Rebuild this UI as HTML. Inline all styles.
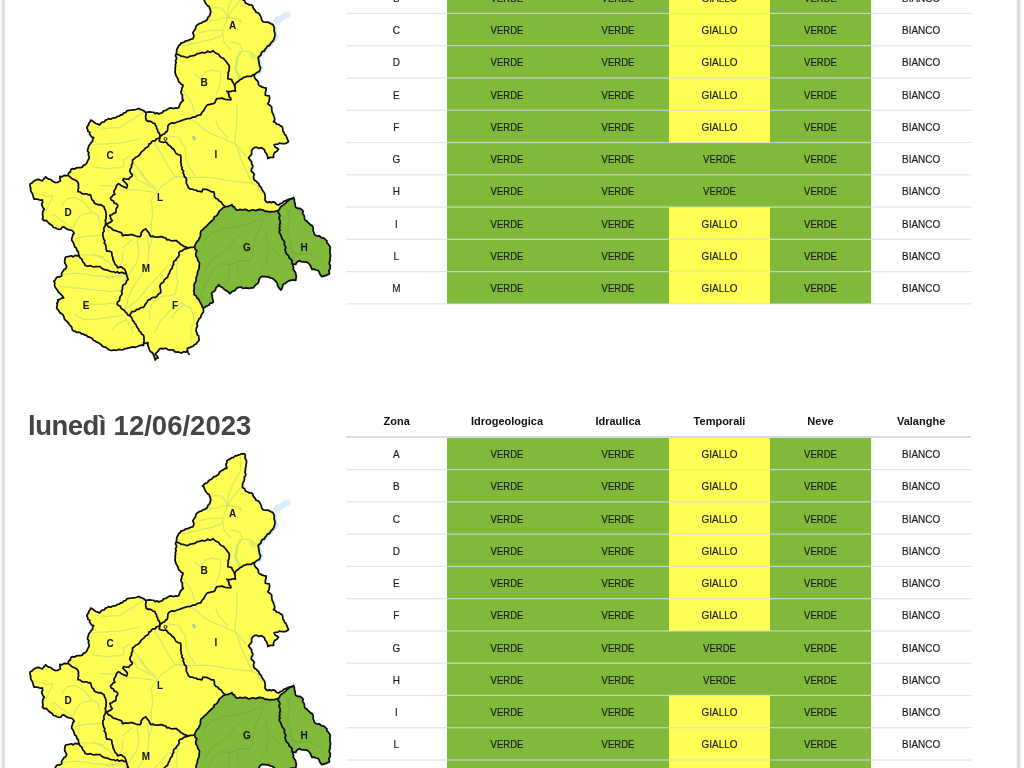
<!DOCTYPE html>
<html><head><meta charset="utf-8"><style>
html,body{margin:0;padding:0;background:#fff;width:1024px;height:768px;overflow:hidden;position:relative}
body{font-family:"Liberation Sans",sans-serif;color:#222}
.th,.td,.hl,.rl{position:absolute}
.th{height:28px;line-height:28px;text-align:center;font-weight:bold;font-size:11px;color:#111}
.td{text-align:center;font-size:10.8px;color:#1c1c1c;-webkit-text-stroke:0.2px #1c1c1c}
.td span{position:absolute;left:0;right:0;top:1.5px;line-height:32px;transform:scaleX(.91)}
.hl{height:2px;background:#d6dce2}
.rl{height:1px;background:rgba(220,224,230,.78)}
.vl{position:absolute;top:0;height:768px;width:1px}
.title{position:absolute;left:28px;top:409.5px;font-size:27.5px;font-weight:bold;color:#444;white-space:nowrap;letter-spacing:0px}
svg{position:absolute;left:0;top:0}
#pg{position:absolute;left:0;top:0;width:1024px;height:768px;will-change:transform;background:#fff}
</style></head><body><div id="pg">
<div class="td" style="left:346.4px;top:-18.82px;width:100.6px;height:32.27px;"><span style="top:0.55px;transform:scaleX(0.92)">B</span></div><div class="td" style="left:447px;top:-18.82px;width:120px;height:32.27px;background:#81b93a;"><span style="top:0.55px;transform:scaleX(0.88)">VERDE</span></div><div class="td" style="left:567px;top:-18.82px;width:102px;height:32.27px;background:#81b93a;"><span style="top:0.55px;transform:scaleX(0.88)">VERDE</span></div><div class="td" style="left:669px;top:-18.82px;width:101px;height:32.27px;background:#fffe55;"><span style="top:0.55px;transform:scaleX(0.92)">GIALLO</span></div><div class="td" style="left:770px;top:-18.82px;width:101px;height:32.27px;background:#81b93a;"><span style="top:0.55px;transform:scaleX(0.88)">VERDE</span></div><div class="td" style="left:871px;top:-18.82px;width:100.25px;height:32.27px;"><span style="top:0.55px;transform:scaleX(0.92)">BIANCO</span></div><div class="td" style="left:346.4px;top:13.45px;width:100.6px;height:32.27px;"><span style="top:0.55px;transform:scaleX(0.92)">C</span></div><div class="td" style="left:447px;top:13.45px;width:120px;height:32.27px;background:#81b93a;"><span style="top:0.55px;transform:scaleX(0.88)">VERDE</span></div><div class="td" style="left:567px;top:13.45px;width:102px;height:32.27px;background:#81b93a;"><span style="top:0.55px;transform:scaleX(0.88)">VERDE</span></div><div class="td" style="left:669px;top:13.45px;width:101px;height:32.27px;background:#fffe55;"><span style="top:0.55px;transform:scaleX(0.92)">GIALLO</span></div><div class="td" style="left:770px;top:13.45px;width:101px;height:32.27px;background:#81b93a;"><span style="top:0.55px;transform:scaleX(0.88)">VERDE</span></div><div class="td" style="left:871px;top:13.45px;width:100.25px;height:32.27px;"><span style="top:0.55px;transform:scaleX(0.92)">BIANCO</span></div><div class="td" style="left:346.4px;top:45.72px;width:100.6px;height:32.27px;"><span style="top:0.55px;transform:scaleX(0.92)">D</span></div><div class="td" style="left:447px;top:45.72px;width:120px;height:32.27px;background:#81b93a;"><span style="top:0.55px;transform:scaleX(0.88)">VERDE</span></div><div class="td" style="left:567px;top:45.72px;width:102px;height:32.27px;background:#81b93a;"><span style="top:0.55px;transform:scaleX(0.88)">VERDE</span></div><div class="td" style="left:669px;top:45.72px;width:101px;height:32.27px;background:#fffe55;"><span style="top:0.55px;transform:scaleX(0.92)">GIALLO</span></div><div class="td" style="left:770px;top:45.72px;width:101px;height:32.27px;background:#81b93a;"><span style="top:0.55px;transform:scaleX(0.88)">VERDE</span></div><div class="td" style="left:871px;top:45.72px;width:100.25px;height:32.27px;"><span style="top:0.55px;transform:scaleX(0.92)">BIANCO</span></div><div class="td" style="left:346.4px;top:77.99px;width:100.6px;height:32.27px;"><span style="top:0.55px;transform:scaleX(0.92)">E</span></div><div class="td" style="left:447px;top:77.99px;width:120px;height:32.27px;background:#81b93a;"><span style="top:0.55px;transform:scaleX(0.88)">VERDE</span></div><div class="td" style="left:567px;top:77.99px;width:102px;height:32.27px;background:#81b93a;"><span style="top:0.55px;transform:scaleX(0.88)">VERDE</span></div><div class="td" style="left:669px;top:77.99px;width:101px;height:32.27px;background:#fffe55;"><span style="top:0.55px;transform:scaleX(0.92)">GIALLO</span></div><div class="td" style="left:770px;top:77.99px;width:101px;height:32.27px;background:#81b93a;"><span style="top:0.55px;transform:scaleX(0.88)">VERDE</span></div><div class="td" style="left:871px;top:77.99px;width:100.25px;height:32.27px;"><span style="top:0.55px;transform:scaleX(0.92)">BIANCO</span></div><div class="td" style="left:346.4px;top:110.26px;width:100.6px;height:32.27px;"><span style="top:0.55px;transform:scaleX(0.92)">F</span></div><div class="td" style="left:447px;top:110.26px;width:120px;height:32.27px;background:#81b93a;"><span style="top:0.55px;transform:scaleX(0.88)">VERDE</span></div><div class="td" style="left:567px;top:110.26px;width:102px;height:32.27px;background:#81b93a;"><span style="top:0.55px;transform:scaleX(0.88)">VERDE</span></div><div class="td" style="left:669px;top:110.26px;width:101px;height:32.27px;background:#fffe55;"><span style="top:0.55px;transform:scaleX(0.92)">GIALLO</span></div><div class="td" style="left:770px;top:110.26px;width:101px;height:32.27px;background:#81b93a;"><span style="top:0.55px;transform:scaleX(0.88)">VERDE</span></div><div class="td" style="left:871px;top:110.26px;width:100.25px;height:32.27px;"><span style="top:0.55px;transform:scaleX(0.92)">BIANCO</span></div><div class="td" style="left:346.4px;top:142.53px;width:100.6px;height:32.27px;"><span style="top:0.55px;transform:scaleX(0.92)">G</span></div><div class="td" style="left:447px;top:142.53px;width:120px;height:32.27px;background:#81b93a;"><span style="top:0.55px;transform:scaleX(0.88)">VERDE</span></div><div class="td" style="left:567px;top:142.53px;width:102px;height:32.27px;background:#81b93a;"><span style="top:0.55px;transform:scaleX(0.88)">VERDE</span></div><div class="td" style="left:669px;top:142.53px;width:101px;height:32.27px;background:#81b93a;"><span style="top:0.55px;transform:scaleX(0.88)">VERDE</span></div><div class="td" style="left:770px;top:142.53px;width:101px;height:32.27px;background:#81b93a;"><span style="top:0.55px;transform:scaleX(0.88)">VERDE</span></div><div class="td" style="left:871px;top:142.53px;width:100.25px;height:32.27px;"><span style="top:0.55px;transform:scaleX(0.92)">BIANCO</span></div><div class="td" style="left:346.4px;top:174.8px;width:100.6px;height:32.27px;"><span style="top:0.55px;transform:scaleX(0.92)">H</span></div><div class="td" style="left:447px;top:174.8px;width:120px;height:32.27px;background:#81b93a;"><span style="top:0.55px;transform:scaleX(0.88)">VERDE</span></div><div class="td" style="left:567px;top:174.8px;width:102px;height:32.27px;background:#81b93a;"><span style="top:0.55px;transform:scaleX(0.88)">VERDE</span></div><div class="td" style="left:669px;top:174.8px;width:101px;height:32.27px;background:#81b93a;"><span style="top:0.55px;transform:scaleX(0.88)">VERDE</span></div><div class="td" style="left:770px;top:174.8px;width:101px;height:32.27px;background:#81b93a;"><span style="top:0.55px;transform:scaleX(0.88)">VERDE</span></div><div class="td" style="left:871px;top:174.8px;width:100.25px;height:32.27px;"><span style="top:0.55px;transform:scaleX(0.92)">BIANCO</span></div><div class="td" style="left:346.4px;top:207.07px;width:100.6px;height:32.27px;"><span style="top:0.55px;transform:scaleX(0.92)">I</span></div><div class="td" style="left:447px;top:207.07px;width:120px;height:32.27px;background:#81b93a;"><span style="top:0.55px;transform:scaleX(0.88)">VERDE</span></div><div class="td" style="left:567px;top:207.07px;width:102px;height:32.27px;background:#81b93a;"><span style="top:0.55px;transform:scaleX(0.88)">VERDE</span></div><div class="td" style="left:669px;top:207.07px;width:101px;height:32.27px;background:#fffe55;"><span style="top:0.55px;transform:scaleX(0.92)">GIALLO</span></div><div class="td" style="left:770px;top:207.07px;width:101px;height:32.27px;background:#81b93a;"><span style="top:0.55px;transform:scaleX(0.88)">VERDE</span></div><div class="td" style="left:871px;top:207.07px;width:100.25px;height:32.27px;"><span style="top:0.55px;transform:scaleX(0.92)">BIANCO</span></div><div class="td" style="left:346.4px;top:239.34px;width:100.6px;height:32.27px;"><span style="top:0.55px;transform:scaleX(0.92)">L</span></div><div class="td" style="left:447px;top:239.34px;width:120px;height:32.27px;background:#81b93a;"><span style="top:0.55px;transform:scaleX(0.88)">VERDE</span></div><div class="td" style="left:567px;top:239.34px;width:102px;height:32.27px;background:#81b93a;"><span style="top:0.55px;transform:scaleX(0.88)">VERDE</span></div><div class="td" style="left:669px;top:239.34px;width:101px;height:32.27px;background:#fffe55;"><span style="top:0.55px;transform:scaleX(0.92)">GIALLO</span></div><div class="td" style="left:770px;top:239.34px;width:101px;height:32.27px;background:#81b93a;"><span style="top:0.55px;transform:scaleX(0.88)">VERDE</span></div><div class="td" style="left:871px;top:239.34px;width:100.25px;height:32.27px;"><span style="top:0.55px;transform:scaleX(0.92)">BIANCO</span></div><div class="td" style="left:346.4px;top:271.61px;width:100.6px;height:32.27px;"><span style="top:0.55px;transform:scaleX(0.92)">M</span></div><div class="td" style="left:447px;top:271.61px;width:120px;height:32.27px;background:#81b93a;"><span style="top:0.55px;transform:scaleX(0.88)">VERDE</span></div><div class="td" style="left:567px;top:271.61px;width:102px;height:32.27px;background:#81b93a;"><span style="top:0.55px;transform:scaleX(0.88)">VERDE</span></div><div class="td" style="left:669px;top:271.61px;width:101px;height:32.27px;background:#fffe55;"><span style="top:0.55px;transform:scaleX(0.92)">GIALLO</span></div><div class="td" style="left:770px;top:271.61px;width:101px;height:32.27px;background:#81b93a;"><span style="top:0.55px;transform:scaleX(0.88)">VERDE</span></div><div class="td" style="left:871px;top:271.61px;width:100.25px;height:32.27px;"><span style="top:0.55px;transform:scaleX(0.92)">BIANCO</span></div><div class="th" style="left:346.4px;top:407.3px;width:100.6px">Zona</div><div class="th" style="left:447px;top:407.3px;width:120px">Idrogeologica</div><div class="th" style="left:567px;top:407.3px;width:102px">Idraulica</div><div class="th" style="left:669px;top:407.3px;width:101px">Temporali</div><div class="th" style="left:770px;top:407.3px;width:101px">Neve</div><div class="th" style="left:871px;top:407.3px;width:100.25px">Valanghe</div><div class="td" style="left:346.4px;top:437.3px;width:100.6px;height:32.27px;"><span style="top:0.75px;transform:scaleX(0.92)">A</span></div><div class="td" style="left:447px;top:437.3px;width:120px;height:32.27px;background:#81b93a;"><span style="top:0.75px;transform:scaleX(0.88)">VERDE</span></div><div class="td" style="left:567px;top:437.3px;width:102px;height:32.27px;background:#81b93a;"><span style="top:0.75px;transform:scaleX(0.88)">VERDE</span></div><div class="td" style="left:669px;top:437.3px;width:101px;height:32.27px;background:#fffe55;"><span style="top:0.75px;transform:scaleX(0.92)">GIALLO</span></div><div class="td" style="left:770px;top:437.3px;width:101px;height:32.27px;background:#81b93a;"><span style="top:0.75px;transform:scaleX(0.88)">VERDE</span></div><div class="td" style="left:871px;top:437.3px;width:100.25px;height:32.27px;"><span style="top:0.75px;transform:scaleX(0.92)">BIANCO</span></div><div class="td" style="left:346.4px;top:469.57px;width:100.6px;height:32.27px;"><span style="top:0.75px;transform:scaleX(0.92)">B</span></div><div class="td" style="left:447px;top:469.57px;width:120px;height:32.27px;background:#81b93a;"><span style="top:0.75px;transform:scaleX(0.88)">VERDE</span></div><div class="td" style="left:567px;top:469.57px;width:102px;height:32.27px;background:#81b93a;"><span style="top:0.75px;transform:scaleX(0.88)">VERDE</span></div><div class="td" style="left:669px;top:469.57px;width:101px;height:32.27px;background:#fffe55;"><span style="top:0.75px;transform:scaleX(0.92)">GIALLO</span></div><div class="td" style="left:770px;top:469.57px;width:101px;height:32.27px;background:#81b93a;"><span style="top:0.75px;transform:scaleX(0.88)">VERDE</span></div><div class="td" style="left:871px;top:469.57px;width:100.25px;height:32.27px;"><span style="top:0.75px;transform:scaleX(0.92)">BIANCO</span></div><div class="td" style="left:346.4px;top:501.84px;width:100.6px;height:32.27px;"><span style="top:0.75px;transform:scaleX(0.92)">C</span></div><div class="td" style="left:447px;top:501.84px;width:120px;height:32.27px;background:#81b93a;"><span style="top:0.75px;transform:scaleX(0.88)">VERDE</span></div><div class="td" style="left:567px;top:501.84px;width:102px;height:32.27px;background:#81b93a;"><span style="top:0.75px;transform:scaleX(0.88)">VERDE</span></div><div class="td" style="left:669px;top:501.84px;width:101px;height:32.27px;background:#fffe55;"><span style="top:0.75px;transform:scaleX(0.92)">GIALLO</span></div><div class="td" style="left:770px;top:501.84px;width:101px;height:32.27px;background:#81b93a;"><span style="top:0.75px;transform:scaleX(0.88)">VERDE</span></div><div class="td" style="left:871px;top:501.84px;width:100.25px;height:32.27px;"><span style="top:0.75px;transform:scaleX(0.92)">BIANCO</span></div><div class="td" style="left:346.4px;top:534.11px;width:100.6px;height:32.27px;"><span style="top:0.75px;transform:scaleX(0.92)">D</span></div><div class="td" style="left:447px;top:534.11px;width:120px;height:32.27px;background:#81b93a;"><span style="top:0.75px;transform:scaleX(0.88)">VERDE</span></div><div class="td" style="left:567px;top:534.11px;width:102px;height:32.27px;background:#81b93a;"><span style="top:0.75px;transform:scaleX(0.88)">VERDE</span></div><div class="td" style="left:669px;top:534.11px;width:101px;height:32.27px;background:#fffe55;"><span style="top:0.75px;transform:scaleX(0.92)">GIALLO</span></div><div class="td" style="left:770px;top:534.11px;width:101px;height:32.27px;background:#81b93a;"><span style="top:0.75px;transform:scaleX(0.88)">VERDE</span></div><div class="td" style="left:871px;top:534.11px;width:100.25px;height:32.27px;"><span style="top:0.75px;transform:scaleX(0.92)">BIANCO</span></div><div class="td" style="left:346.4px;top:566.38px;width:100.6px;height:32.27px;"><span style="top:0.75px;transform:scaleX(0.92)">E</span></div><div class="td" style="left:447px;top:566.38px;width:120px;height:32.27px;background:#81b93a;"><span style="top:0.75px;transform:scaleX(0.88)">VERDE</span></div><div class="td" style="left:567px;top:566.38px;width:102px;height:32.27px;background:#81b93a;"><span style="top:0.75px;transform:scaleX(0.88)">VERDE</span></div><div class="td" style="left:669px;top:566.38px;width:101px;height:32.27px;background:#fffe55;"><span style="top:0.75px;transform:scaleX(0.92)">GIALLO</span></div><div class="td" style="left:770px;top:566.38px;width:101px;height:32.27px;background:#81b93a;"><span style="top:0.75px;transform:scaleX(0.88)">VERDE</span></div><div class="td" style="left:871px;top:566.38px;width:100.25px;height:32.27px;"><span style="top:0.75px;transform:scaleX(0.92)">BIANCO</span></div><div class="td" style="left:346.4px;top:598.65px;width:100.6px;height:32.27px;"><span style="top:0.75px;transform:scaleX(0.92)">F</span></div><div class="td" style="left:447px;top:598.65px;width:120px;height:32.27px;background:#81b93a;"><span style="top:0.75px;transform:scaleX(0.88)">VERDE</span></div><div class="td" style="left:567px;top:598.65px;width:102px;height:32.27px;background:#81b93a;"><span style="top:0.75px;transform:scaleX(0.88)">VERDE</span></div><div class="td" style="left:669px;top:598.65px;width:101px;height:32.27px;background:#fffe55;"><span style="top:0.75px;transform:scaleX(0.92)">GIALLO</span></div><div class="td" style="left:770px;top:598.65px;width:101px;height:32.27px;background:#81b93a;"><span style="top:0.75px;transform:scaleX(0.88)">VERDE</span></div><div class="td" style="left:871px;top:598.65px;width:100.25px;height:32.27px;"><span style="top:0.75px;transform:scaleX(0.92)">BIANCO</span></div><div class="td" style="left:346.4px;top:630.92px;width:100.6px;height:32.27px;"><span style="top:0.75px;transform:scaleX(0.92)">G</span></div><div class="td" style="left:447px;top:630.92px;width:120px;height:32.27px;background:#81b93a;"><span style="top:0.75px;transform:scaleX(0.88)">VERDE</span></div><div class="td" style="left:567px;top:630.92px;width:102px;height:32.27px;background:#81b93a;"><span style="top:0.75px;transform:scaleX(0.88)">VERDE</span></div><div class="td" style="left:669px;top:630.92px;width:101px;height:32.27px;background:#81b93a;"><span style="top:0.75px;transform:scaleX(0.88)">VERDE</span></div><div class="td" style="left:770px;top:630.92px;width:101px;height:32.27px;background:#81b93a;"><span style="top:0.75px;transform:scaleX(0.88)">VERDE</span></div><div class="td" style="left:871px;top:630.92px;width:100.25px;height:32.27px;"><span style="top:0.75px;transform:scaleX(0.92)">BIANCO</span></div><div class="td" style="left:346.4px;top:663.19px;width:100.6px;height:32.27px;"><span style="top:0.75px;transform:scaleX(0.92)">H</span></div><div class="td" style="left:447px;top:663.19px;width:120px;height:32.27px;background:#81b93a;"><span style="top:0.75px;transform:scaleX(0.88)">VERDE</span></div><div class="td" style="left:567px;top:663.19px;width:102px;height:32.27px;background:#81b93a;"><span style="top:0.75px;transform:scaleX(0.88)">VERDE</span></div><div class="td" style="left:669px;top:663.19px;width:101px;height:32.27px;background:#81b93a;"><span style="top:0.75px;transform:scaleX(0.88)">VERDE</span></div><div class="td" style="left:770px;top:663.19px;width:101px;height:32.27px;background:#81b93a;"><span style="top:0.75px;transform:scaleX(0.88)">VERDE</span></div><div class="td" style="left:871px;top:663.19px;width:100.25px;height:32.27px;"><span style="top:0.75px;transform:scaleX(0.92)">BIANCO</span></div><div class="td" style="left:346.4px;top:695.46px;width:100.6px;height:32.27px;"><span style="top:0.75px;transform:scaleX(0.92)">I</span></div><div class="td" style="left:447px;top:695.46px;width:120px;height:32.27px;background:#81b93a;"><span style="top:0.75px;transform:scaleX(0.88)">VERDE</span></div><div class="td" style="left:567px;top:695.46px;width:102px;height:32.27px;background:#81b93a;"><span style="top:0.75px;transform:scaleX(0.88)">VERDE</span></div><div class="td" style="left:669px;top:695.46px;width:101px;height:32.27px;background:#fffe55;"><span style="top:0.75px;transform:scaleX(0.92)">GIALLO</span></div><div class="td" style="left:770px;top:695.46px;width:101px;height:32.27px;background:#81b93a;"><span style="top:0.75px;transform:scaleX(0.88)">VERDE</span></div><div class="td" style="left:871px;top:695.46px;width:100.25px;height:32.27px;"><span style="top:0.75px;transform:scaleX(0.92)">BIANCO</span></div><div class="td" style="left:346.4px;top:727.73px;width:100.6px;height:32.27px;"><span style="top:0.75px;transform:scaleX(0.92)">L</span></div><div class="td" style="left:447px;top:727.73px;width:120px;height:32.27px;background:#81b93a;"><span style="top:0.75px;transform:scaleX(0.88)">VERDE</span></div><div class="td" style="left:567px;top:727.73px;width:102px;height:32.27px;background:#81b93a;"><span style="top:0.75px;transform:scaleX(0.88)">VERDE</span></div><div class="td" style="left:669px;top:727.73px;width:101px;height:32.27px;background:#fffe55;"><span style="top:0.75px;transform:scaleX(0.92)">GIALLO</span></div><div class="td" style="left:770px;top:727.73px;width:101px;height:32.27px;background:#81b93a;"><span style="top:0.75px;transform:scaleX(0.88)">VERDE</span></div><div class="td" style="left:871px;top:727.73px;width:100.25px;height:32.27px;"><span style="top:0.75px;transform:scaleX(0.92)">BIANCO</span></div><div class="td" style="left:346.4px;top:760px;width:100.6px;height:32.27px;"><span style="top:0.75px;transform:scaleX(0.92)">M</span></div><div class="td" style="left:447px;top:760px;width:120px;height:32.27px;background:#81b93a;"><span style="top:0.75px;transform:scaleX(0.88)">VERDE</span></div><div class="td" style="left:567px;top:760px;width:102px;height:32.27px;background:#81b93a;"><span style="top:0.75px;transform:scaleX(0.88)">VERDE</span></div><div class="td" style="left:669px;top:760px;width:101px;height:32.27px;background:#fffe55;"><span style="top:0.75px;transform:scaleX(0.92)">GIALLO</span></div><div class="td" style="left:770px;top:760px;width:101px;height:32.27px;background:#81b93a;"><span style="top:0.75px;transform:scaleX(0.88)">VERDE</span></div><div class="td" style="left:871px;top:760px;width:100.25px;height:32.27px;"><span style="top:0.75px;transform:scaleX(0.92)">BIANCO</span></div><div class="hl" style="left:346px;top:436px;width:625px"></div><svg width="1024" height="768" style="position:absolute;left:0;top:0"><rect x="346.4" y="12.82" width="624.85" height="1.25" fill="rgb(216,221,228)" fill-opacity="0.8"/><rect x="346.4" y="45.09" width="624.85" height="1.25" fill="rgb(216,221,228)" fill-opacity="0.8"/><rect x="346.4" y="77.37" width="624.85" height="1.25" fill="rgb(216,221,228)" fill-opacity="0.8"/><rect x="346.4" y="109.63" width="624.85" height="1.25" fill="rgb(216,221,228)" fill-opacity="0.8"/><rect x="346.4" y="141.91" width="624.85" height="1.25" fill="rgb(216,221,228)" fill-opacity="0.8"/><rect x="346.4" y="174.18" width="624.85" height="1.25" fill="rgb(216,221,228)" fill-opacity="0.8"/><rect x="346.4" y="206.45" width="624.85" height="1.25" fill="rgb(216,221,228)" fill-opacity="0.8"/><rect x="346.4" y="238.72" width="624.85" height="1.25" fill="rgb(216,221,228)" fill-opacity="0.8"/><rect x="346.4" y="270.99" width="624.85" height="1.25" fill="rgb(216,221,228)" fill-opacity="0.8"/><rect x="346.4" y="303.25" width="624.85" height="1.25" fill="rgb(216,221,228)" fill-opacity="0.8"/><rect x="346.4" y="468.94" width="624.85" height="1.25" fill="rgb(216,221,228)" fill-opacity="0.8"/><rect x="346.4" y="501.21" width="624.85" height="1.25" fill="rgb(216,221,228)" fill-opacity="0.8"/><rect x="346.4" y="533.49" width="624.85" height="1.25" fill="rgb(216,221,228)" fill-opacity="0.8"/><rect x="346.4" y="565.75" width="624.85" height="1.25" fill="rgb(216,221,228)" fill-opacity="0.8"/><rect x="346.4" y="598.02" width="624.85" height="1.25" fill="rgb(216,221,228)" fill-opacity="0.8"/><rect x="346.4" y="630.30" width="624.85" height="1.25" fill="rgb(216,221,228)" fill-opacity="0.8"/><rect x="346.4" y="662.57" width="624.85" height="1.25" fill="rgb(216,221,228)" fill-opacity="0.8"/><rect x="346.4" y="694.84" width="624.85" height="1.25" fill="rgb(216,221,228)" fill-opacity="0.8"/><rect x="346.4" y="727.11" width="624.85" height="1.25" fill="rgb(216,221,228)" fill-opacity="0.8"/><rect x="346.4" y="759.38" width="624.85" height="1.25" fill="rgb(216,221,228)" fill-opacity="0.8"/><rect x="346.4" y="791.64" width="624.85" height="1.25" fill="rgb(216,221,228)" fill-opacity="0.8"/></svg><div class="title"><span style="letter-spacing:-0.5px">luned&igrave;</span> 12/06/2023</div><svg width="1024" height="768" viewBox="0 0 1024 768"><g transform="translate(0,0)"><polygon points="273.75,21.10 276.10,17.20 280.80,15.60 284.70,12.50 288.60,11.70 290.90,14.80 290.20,16.40 284.70,18.75 280.00,22.70 276.10,25.80" fill="#dcecf8" stroke="#dcecf8" stroke-width="1"/><polyline points="273.40,26.60 274.50,32.80 275.30,38.30 267.50,46.90 258.10,57.80 258.30,60.00 260.60,67.80 259.10,71.70 254.40,74.50" fill="none" stroke="#d6e9f7" stroke-width="5.5" stroke-linejoin="round"/><polygon points="244.50,-34.20 245.47,-32.64 244.98,-30.67 245.57,-29.00 246.40,-27.40 246.56,-25.41 246.05,-23.48 245.93,-21.51 245.47,-19.58 245.50,-17.60 244.90,-15.89 245.66,-14.02 245.56,-12.25 244.23,-10.61 244.50,-8.80 243.92,-6.84 242.82,-5.05 242.50,-3.00 242.50,-0.50 244.58,0.85 245.60,3.10 247.40,3.73 249.04,4.79 251.06,4.85 252.70,5.90 253.30,8.34 255.00,10.20 255.95,12.12 258.24,12.86 259.62,14.41 260.50,16.40 261.38,18.26 261.82,20.35 263.30,21.90 265.43,22.07 267.56,22.17 269.60,22.90 271.05,23.85 272.76,24.44 273.75,26.00 274.31,27.71 274.19,29.49 274.28,31.25 274.82,32.96 275.00,34.71 274.80,36.50 273.75,39.60 272.84,41.24 271.38,42.39 270.36,43.92 269.44,45.55 267.37,46.17 266.47,47.81 265.17,49.11 264.45,50.90 262.40,51.54 261.33,53.04 260.91,55.10 259.48,56.28 258.10,57.50 258.60,60.00 258.80,62.03 259.31,63.97 259.51,66.00 260.60,67.80 259.95,69.79 259.10,71.70 257.30,72.24 255.84,73.36 254.40,74.50 254.29,76.35 254.80,78.01 255.90,79.50 257.40,80.75 258.34,82.34 258.43,84.47 259.80,85.80 261.79,86.88 263.92,87.56 266.10,88.10 266.17,89.91 265.55,91.63 265.35,93.41 265.30,95.20 267.23,95.66 269.20,95.90 269.68,97.73 269.30,99.57 269.20,101.40 267.70,103.75 269.74,105.21 271.60,106.90 271.74,108.84 271.81,110.80 272.32,112.66 273.31,114.40 273.89,116.24 274.57,118.05 274.70,120.00 273.50,121.75 275.46,122.49 276.60,124.25 278.75,124.48 280.39,125.87 282.25,126.75 282.83,128.89 282.90,131.10 284.07,132.47 284.52,134.35 286.00,135.50 286.80,137.60 287.59,139.70 288.50,141.75 286.96,142.71 285.40,143.61 283.50,143.60 281.59,143.54 279.75,143.00 278.03,144.12 275.98,144.25 274.10,144.90 275.08,146.85 276.86,147.97 278.50,149.25 276.91,151.17 274.75,152.40 273.80,153.93 273.51,155.63 273.50,157.40 271.56,157.48 269.65,157.64 267.90,158.60 267.62,156.62 267.02,154.74 266.00,153.00 264.80,151.65 264.48,149.68 262.90,148.60 260.96,147.66 258.76,148.47 256.84,147.35 254.75,147.40 252.96,148.74 251.60,150.50 251.65,152.38 251.60,154.25 250.02,156.10 248.50,158.00 250.06,159.87 251.60,161.75 251.68,164.05 252.90,166.00 252.35,167.75 251.36,169.36 251.25,171.25 252.97,172.68 254.40,174.40 253.54,176.50 253.75,178.75 254.60,180.40 256.29,181.21 257.43,182.57 258.75,183.75 259.51,185.95 261.25,187.50 261.91,189.52 263.14,191.24 264.41,192.95 265.00,195.00 265.25,197.50 265.00,200.00 266.05,201.45 267.50,202.50 269.32,201.84 271.29,202.67 273.10,201.90 275.14,202.65 276.59,204.47 278.75,205.00 280.26,203.54 282.47,203.01 283.75,201.25 285.48,200.89 287.00,200.01 288.63,199.40 290.33,198.95 291.92,198.24 293.50,197.50 294.32,199.40 294.36,201.47 295.06,203.40 295.20,205.45 295.80,207.40 297.80,208.38 300.16,208.47 302.00,209.85 303.15,211.39 302.55,213.44 303.82,214.95 304.36,216.67 304.50,218.50 305.24,220.23 306.99,220.96 307.85,222.56 309.44,223.45 310.50,224.85 312.22,225.61 313.10,227.20 313.24,229.08 313.24,230.99 314.04,232.76 314.40,234.60 315.93,235.53 317.62,236.06 319.56,235.88 320.87,237.41 322.61,237.80 324.30,238.30 325.54,239.59 326.87,240.82 326.93,242.94 328.40,244.08 329.13,245.73 330.40,247.00 329.87,248.98 330.10,250.96 329.81,252.94 330.55,254.92 330.40,256.90 329.86,258.60 330.24,260.37 329.43,262.05 329.39,263.78 330.36,265.59 330.19,267.32 329.96,269.04 328.79,270.69 329.41,272.48 329.20,274.20 327.29,274.66 325.59,275.71 323.65,276.07 321.80,276.70 320.74,275.23 319.77,273.71 319.13,271.99 318.10,270.50 316.06,269.98 314.07,269.14 311.90,269.30 311.19,267.62 310.57,265.89 309.55,264.39 308.20,263.10 306.71,262.00 304.93,262.00 303.20,261.80 301.20,261.65 299.50,260.60 297.91,261.48 296.57,262.61 295.80,264.30 292.50,264.00 293.13,265.71 293.58,267.45 293.30,269.30 294.26,270.87 295.40,272.35 295.80,274.20 296.41,276.27 295.94,278.33 295.80,280.40 293.30,279.81 290.80,280.40 288.76,280.95 286.93,281.92 285.42,283.52 283.40,284.10 282.55,286.05 282.09,288.15 281.00,290.00 279.57,288.65 278.45,287.10 277.54,285.42 277.33,283.27 276.18,281.75 274.75,280.40 273.43,279.11 271.89,278.19 269.92,277.99 268.60,276.70 266.73,276.97 264.85,276.52 262.98,276.38 261.10,276.70 259.85,278.11 259.02,279.73 258.70,281.60 257.81,283.53 255.94,284.60 254.54,286.09 253.40,287.80 251.30,287.84 249.21,288.35 247.10,287.99 245.00,288.00 242.88,288.37 240.93,286.99 238.80,287.40 236.99,288.05 235.73,289.48 234.41,290.83 232.40,291.20 231.16,292.65 229.70,293.80 228.67,292.25 227.27,291.15 225.60,290.38 224.15,289.34 222.94,288.01 221.43,287.05 219.82,286.20 218.75,284.70 217.76,286.39 215.99,287.46 215.63,289.65 214.41,291.16 212.57,292.17 211.50,293.80 212.25,295.78 212.35,297.91 212.89,299.94 213.30,302.00 211.96,303.09 210.01,303.21 209.14,305.06 207.52,305.70 206.00,306.50 203.50,308.00 203.33,309.85 203.50,311.70 202.23,313.52 201.20,315.45 200.60,317.60 199.12,318.73 198.39,320.35 197.70,322.00 196.75,323.71 197.60,325.78 196.62,327.48 196.20,329.30 196.10,331.18 197.00,332.76 197.16,334.56 198.72,335.95 198.74,337.79 199.20,339.50 198.49,341.17 197.15,342.40 196.20,343.90 194.39,344.69 192.98,346.27 191.10,346.89 189.30,347.70 187.40,348.30 187.34,350.41 188.04,352.32 188.90,354.20 187.40,351.30 185.66,352.12 183.67,351.59 182.02,352.85 180.10,352.70 178.39,351.96 176.42,352.04 174.60,351.62 173.22,349.89 171.30,349.80 169.54,349.95 167.84,349.69 166.30,348.38 164.58,348.28 162.76,348.84 161.10,348.30 159.17,349.32 158.11,351.21 156.50,352.55 155.20,354.20 156.98,355.80 158.10,357.90 156.29,358.45 155.20,360.00 154.73,357.76 153.75,355.70 153.19,353.84 152.02,352.42 150.26,351.44 149.40,349.80 148.83,348.01 148.19,346.24 147.79,344.42 147.90,342.50 145.77,343.35 143.50,343.00 143.50,345.40 141.72,345.24 140.00,345.45 138.35,346.17 136.68,346.73 135.02,347.34 133.20,346.90 131.47,347.09 129.87,347.77 128.10,347.79 126.56,348.73 124.75,348.60 123.25,349.69 121.50,349.80 119.77,349.49 118.08,349.71 116.41,350.27 114.70,350.21 112.98,350.13 111.30,350.50 109.26,349.99 107.63,348.63 105.94,347.42 103.90,346.90 102.27,346.19 101.24,344.58 99.70,343.73 98.37,342.57 96.52,342.17 95.20,341.00 93.42,340.51 92.50,338.72 91.03,337.74 89.29,337.20 87.55,336.64 86.40,335.20 84.62,335.05 83.16,333.92 81.36,333.83 80.00,332.40 78.19,332.33 76.37,332.30 74.92,331.14 73.20,330.80 72.11,329.42 71.87,327.52 70.93,326.06 69.54,324.87 68.60,323.40 67.41,321.96 66.13,320.60 64.60,319.50 64.02,317.34 63.27,315.27 61.70,313.60 60.01,312.84 59.11,311.29 58.13,309.82 56.80,308.70 56.73,306.91 57.32,305.19 56.83,303.36 58.13,301.72 57.80,299.90 59.78,299.30 61.57,298.12 63.70,298.00 62.38,295.91 60.70,294.10 59.30,292.79 57.97,291.42 57.08,289.69 55.90,288.20 54.91,286.64 54.51,284.91 54.89,282.96 53.90,281.40 55.13,280.05 55.90,278.40 57.53,276.82 59.94,276.81 61.70,275.50 61.55,273.38 62.70,271.60 63.82,269.82 65.74,268.69 66.60,266.70 66.09,265.00 65.02,263.54 64.60,261.80 64.93,259.36 65.60,257.00 67.43,256.55 69.30,256.40 71.23,255.76 73.26,256.86 75.14,255.42 77.13,255.81 79.10,255.80 78.46,253.80 78.30,251.70 76.86,250.28 76.43,248.24 74.71,246.99 74.20,245.00 73.62,243.31 72.77,241.72 71.75,240.19 71.70,238.30 72.54,236.64 72.79,234.68 74.20,233.30 72.50,230.80 70.62,230.06 68.57,229.71 66.75,228.86 65.10,227.62 63.30,226.70 61.73,227.63 60.80,229.20 58.81,229.29 56.96,228.73 55.21,227.75 53.30,227.50 52.29,225.61 50.48,224.52 48.85,223.25 47.50,221.70 46.13,220.27 43.88,220.60 42.50,219.20 43.00,216.70 42.50,214.20 42.79,212.44 43.16,210.71 44.20,209.20 42.89,207.77 42.29,205.99 41.70,204.20 42.53,202.18 42.50,200.00 40.38,200.24 38.36,199.49 36.29,199.21 34.20,199.20 33.40,197.32 33.00,195.31 32.30,193.40 31.15,191.64 30.57,189.71 30.60,187.60 29.89,185.92 30.00,184.10 31.92,183.02 33.47,181.45 35.30,180.25 36.99,179.57 38.80,179.40 40.51,180.21 42.30,180.80 43.42,179.49 44.43,178.08 45.80,177.00 47.16,178.29 48.79,179.11 50.68,179.49 52.01,180.82 53.62,181.70 55.20,182.60 57.14,182.50 58.84,181.70 60.50,180.80 59.91,178.64 59.90,176.40 62.12,176.80 64.10,175.34 66.30,175.60 67.90,175.40 68.52,173.26 70.41,171.75 70.80,169.50 72.64,168.61 74.74,169.02 76.51,167.79 78.49,167.63 80.50,167.60 82.36,167.21 83.23,165.31 85.03,164.84 86.40,163.70 87.32,161.71 88.27,159.74 89.30,157.80 88.99,156.12 88.28,154.52 88.86,152.68 87.53,151.18 87.80,149.40 88.31,147.56 88.89,145.75 90.04,144.24 91.06,142.66 92.52,141.30 92.71,139.30 93.70,137.70 91.90,137.15 90.70,135.70 89.62,134.29 89.76,132.27 87.81,131.29 87.73,129.38 86.80,127.90 87.43,126.26 88.56,124.88 88.94,123.12 90.16,121.78 90.70,120.10 92.46,121.08 94.12,122.24 95.71,123.53 97.68,124.12 99.50,125.00 100.65,123.39 102.06,122.08 104.32,121.81 105.40,120.10 107.11,119.60 108.71,118.71 110.71,119.24 112.28,118.26 114.05,117.97 115.82,117.69 117.31,116.40 119.10,116.20 120.61,115.05 122.61,114.69 123.68,112.81 125.76,112.58 126.89,110.80 128.80,110.30 130.81,110.18 132.77,109.82 134.80,109.78 136.73,109.25 138.60,108.40 140.32,109.38 142.26,109.98 144.02,110.90 145.50,112.30 147.54,112.05 149.60,111.90 151.52,112.15 153.47,112.25 155.13,113.66 157.27,112.91 159.00,114.00 160.55,113.13 162.37,112.74 163.36,110.86 165.24,110.57 166.83,109.77 168.30,108.75 169.98,107.94 171.77,108.23 173.55,108.51 175.26,107.98 177.04,108.19 178.75,107.70 179.80,104.60 180.64,102.89 181.92,101.56 183.40,100.40 182.36,98.90 182.37,97.08 182.41,95.24 181.44,93.72 180.80,92.10 181.69,90.38 181.69,88.40 182.71,86.72 182.90,84.80 181.18,84.21 179.96,82.97 178.75,81.70 178.19,79.78 177.47,77.92 176.29,76.27 175.60,74.40 175.02,72.30 175.27,70.20 175.19,68.10 175.60,66.00 175.37,64.27 176.18,62.59 175.39,60.84 176.43,59.17 176.49,57.45 175.41,55.69 176.10,54.00 176.53,52.29 176.67,50.51 177.10,48.80 178.17,47.39 178.71,45.62 180.39,44.62 181.00,42.90 182.81,42.77 184.41,41.99 185.86,40.78 187.69,40.70 189.28,39.89 190.92,39.23 192.70,39.00 193.58,37.13 193.89,35.19 192.82,33.07 193.70,31.20 195.12,29.49 195.76,27.40 196.60,25.40 198.06,24.41 199.54,23.45 201.35,23.09 202.74,21.98 204.44,21.41 205.97,20.54 207.40,19.50 207.91,17.31 209.67,15.73 210.30,13.60 210.72,11.80 210.45,10.10 209.71,8.48 209.30,6.80 207.61,5.73 206.36,4.29 205.30,2.70 204.50,0.90 204.01,-0.90 202.50,-2.00 203.80,-3.44 205.33,-4.59 207.28,-5.25 208.40,-6.90 209.71,-8.08 211.34,-8.78 212.70,-9.87 213.86,-11.27 215.72,-11.63 217.10,-12.70 218.67,-13.58 219.21,-15.49 220.50,-16.65 222.00,-17.60 223.59,-18.38 225.02,-19.53 226.90,-19.60 226.40,-21.55 225.90,-23.50 226.83,-25.34 226.90,-27.40 228.65,-28.18 230.19,-29.29 231.80,-30.30 233.62,-30.49 234.89,-32.06 236.73,-32.16 238.27,-33.06 240.02,-33.42 241.60,-34.20 244.50,-34.20" fill="#fffe55"/><polygon points="225.50,206.70 223.81,207.57 222.17,208.52 220.83,209.90 219.30,211.00 218.39,212.79 217.50,214.60 216.33,215.99 214.45,216.67 213.87,218.65 212.73,220.07 211.34,221.24 210.06,222.52 208.71,223.73 207.49,225.07 206.37,226.51 204.70,227.40 203.64,228.78 202.42,229.99 201.00,231.00 200.46,232.80 200.51,234.75 200.23,236.62 199.20,238.30 198.35,240.36 196.75,241.93 195.60,243.80 194.50,247.00 195.19,249.26 196.90,250.90 195.98,252.63 195.76,254.48 196.00,256.40 197.42,257.97 197.68,260.11 198.80,261.83 199.60,263.70 199.11,265.51 199.20,267.47 198.67,269.28 197.80,271.00 197.43,272.84 197.28,274.74 196.51,276.49 196.00,278.30 196.17,280.29 195.61,282.10 194.29,283.70 194.10,285.60 194.21,287.42 194.08,289.24 193.77,291.06 194.30,292.88 194.10,294.70 196.07,295.80 196.89,298.05 198.70,299.30 199.55,301.10 200.43,302.89 201.43,304.60 201.96,306.58 203.50,308.00 206.00,306.50 207.52,305.70 209.14,305.06 210.01,303.21 211.96,303.09 213.30,302.00 212.89,299.94 212.35,297.91 212.25,295.78 211.50,293.80 212.57,292.17 214.41,291.16 215.63,289.65 215.99,287.46 217.76,286.39 218.75,284.70 219.82,286.20 221.43,287.05 222.94,288.01 224.15,289.34 225.60,290.38 227.27,291.15 228.67,292.25 229.70,293.80 231.16,292.65 232.40,291.20 234.41,290.83 235.73,289.48 236.99,288.05 238.80,287.40 240.93,286.99 242.88,288.37 245.00,288.00 247.10,287.99 249.21,288.35 251.30,287.84 253.40,287.80 254.54,286.09 255.94,284.60 257.81,283.53 258.70,281.60 259.02,279.73 259.85,278.11 261.10,276.70 262.98,276.38 264.85,276.52 266.73,276.97 268.60,276.70 269.92,277.99 271.89,278.19 273.43,279.11 274.75,280.40 276.18,281.75 277.33,283.27 277.54,285.42 278.45,287.10 279.57,288.65 281.00,290.00 282.09,288.15 282.55,286.05 283.40,284.10 285.42,283.52 286.93,281.92 288.76,280.95 290.80,280.40 293.30,279.81 295.80,280.40 295.94,278.33 296.41,276.27 295.80,274.20 295.40,272.35 294.26,270.87 293.30,269.30 293.58,267.45 293.13,265.71 292.50,264.00 291.69,262.37 292.10,260.60 290.77,259.19 289.24,257.95 288.71,255.88 287.34,254.51 285.90,253.20 285.57,251.35 284.95,249.53 285.90,247.53 284.78,245.77 284.27,243.93 284.65,242.00 283.44,240.41 282.15,238.86 281.56,236.91 280.91,234.99 279.70,233.40 279.06,231.69 280.08,229.99 279.15,228.28 279.92,226.57 279.49,224.87 280.23,223.16 280.14,221.46 279.70,219.75 278.77,217.99 279.88,215.96 279.48,214.14 278.10,212.43 278.50,210.50 276.62,210.79 274.81,211.52 272.89,211.58 270.96,211.60 269.10,212.00 267.20,211.20 265.01,211.40 263.28,210.03 261.25,209.70 259.40,209.43 257.59,209.90 255.82,210.73 253.93,209.98 252.08,209.81 250.30,210.50 248.50,210.97 246.88,209.94 245.21,209.39 243.42,209.73 241.65,209.93 240.00,209.20 238.43,210.15 236.60,210.00 235.31,208.77 234.56,207.08 232.72,206.32 232.00,204.60 230.49,205.48 228.83,205.90 227.30,206.72 225.50,206.70" fill="#81b93a"/><polygon points="278.50,210.50 280.00,208.00 280.93,206.46 282.50,205.60 284.34,204.35 285.96,202.84 287.50,201.25 288.98,200.29 290.29,199.04 292.22,198.78 293.50,197.50 294.32,199.40 294.36,201.47 295.06,203.40 295.20,205.45 295.80,207.40 297.80,208.38 300.16,208.47 302.00,209.85 303.15,211.39 302.55,213.44 303.82,214.95 304.36,216.67 304.50,218.50 305.24,220.23 306.99,220.96 307.85,222.56 309.44,223.45 310.50,224.85 312.22,225.61 313.10,227.20 313.24,229.08 313.24,230.99 314.04,232.76 314.40,234.60 315.93,235.53 317.62,236.06 319.56,235.88 320.87,237.41 322.61,237.80 324.30,238.30 325.54,239.59 326.87,240.82 326.93,242.94 328.40,244.08 329.13,245.73 330.40,247.00 329.87,248.98 330.10,250.96 329.81,252.94 330.55,254.92 330.40,256.90 329.86,258.60 330.24,260.37 329.43,262.05 329.39,263.78 330.36,265.59 330.19,267.32 329.96,269.04 328.79,270.69 329.41,272.48 329.20,274.20 327.29,274.66 325.59,275.71 323.65,276.07 321.80,276.70 320.74,275.23 319.77,273.71 319.13,271.99 318.10,270.50 316.06,269.98 314.07,269.14 311.90,269.30 311.19,267.62 310.57,265.89 309.55,264.39 308.20,263.10 306.71,262.00 304.93,262.00 303.20,261.80 301.20,261.65 299.50,260.60 297.91,261.48 296.57,262.61 295.80,264.30 292.50,264.00 291.69,262.37 292.10,260.60 290.77,259.19 289.24,257.95 288.71,255.88 287.34,254.51 285.90,253.20 285.57,251.35 284.95,249.53 285.90,247.53 284.78,245.77 284.27,243.93 284.65,242.00 283.44,240.41 282.15,238.86 281.56,236.91 280.91,234.99 279.70,233.40 279.06,231.69 280.08,229.99 279.15,228.28 279.92,226.57 279.49,224.87 280.23,223.16 280.14,221.46 279.70,219.75 278.77,217.99 279.88,215.96 279.48,214.14 278.10,212.43 278.50,210.50" fill="#81b93a"/><polyline points="240.4,52 237.2,58 235.6,70.2 238.75,75.6 240.3,79.5" fill="none" stroke="#cde66c" stroke-width="2.6" stroke-linecap="round"/><ellipse cx="252.5" cy="56" rx="4.2" ry="2.6" transform="rotate(40 252.5 56)" fill="#dff064"/><polyline points="258.5,55.5 266,46.5 273,38.5" fill="none" stroke="#e4f25e" stroke-width="2.4"/><g fill="none" stroke="#cfe86c" stroke-width="1.2" stroke-linejoin="round"><polyline points="230.00,41.70 233.15,42.31 236.32,42.83 239.40,43.75 241.19,47.27 242.50,51.00 246.67,51.30 250.80,52.00 253.27,54.29 256.00,56.25"/><polyline points="194.00,73.60 196.38,75.51 198.82,77.35 201.00,79.50 202.52,75.89 204.50,72.50 208.54,71.11 212.70,70.10 216.22,70.90 219.80,71.30 220.55,74.77 220.90,78.30 220.22,81.85 219.22,85.34 218.60,88.90 217.40,91.79 216.25,94.70"/><polyline points="183.40,91.20 185.51,94.11 187.70,96.96 189.76,99.90 191.60,103.00 192.97,106.44 193.75,110.07 195.31,113.44 196.30,117.00"/><polyline points="61.70,205.80 64.14,202.45 66.70,199.20 70.80,198.11 75.00,197.50 78.46,199.21 81.77,201.19 85.00,203.30 87.07,206.23 89.62,208.78 91.70,211.70 95.05,213.67 98.30,215.80 99.01,219.58 100.00,223.30"/><polyline points="45.80,211.70 47.21,208.54 48.53,205.35 49.99,202.22 51.70,199.20 52.50,195.00"/><polyline points="49.20,215.00 55.00,215.00 57.55,217.45 60.00,220.00 63.48,221.90 66.70,224.20 69.36,226.05 71.70,228.30"/><polyline points="73.30,228.30 74.93,224.12 76.70,220.00 79.03,217.33 81.70,215.00 84.97,213.92 88.32,213.14 91.70,212.50"/><polyline points="75.00,238.30 78.33,237.72 81.64,237.06 84.98,236.55 88.33,236.10 91.70,235.80 95.32,235.74 98.89,235.07 102.50,235.00"/><polyline points="80.00,255.00 83.90,254.92 87.80,254.76 91.70,255.00 94.86,255.17 97.98,255.65 101.05,256.48 104.20,256.70"/><polyline points="41.70,195.00 45.02,195.78 48.30,196.70 51.18,195.62 54.20,195.00"/><polyline points="137.10,239.50 137.68,243.39 138.10,247.30 138.79,250.72 139.00,254.20 138.30,257.67 137.10,261.00 135.57,264.03 133.52,266.75 132.17,269.88 130.30,272.70 128.42,275.21 126.28,277.51 124.43,280.03 122.50,282.50"/><polyline points="146.90,234.65 147.45,238.30 148.09,241.94 148.58,245.60 148.80,249.30 148.78,252.49 148.14,255.64 148.32,258.84 147.90,262.00 146.51,265.21 144.82,268.29 143.45,271.51 142.00,274.70 139.52,277.41 137.61,280.56 135.45,283.51 133.20,286.40 131.82,289.23 130.81,292.23 129.30,295.00 128.07,297.86 127.56,300.95 126.63,303.91 125.48,306.80 124.70,309.80"/><polyline points="122.50,248.30 124.87,246.04 127.19,243.72 129.60,241.51 132.20,239.50"/><polyline points="122.50,252.20 122.58,256.60 122.50,261.00 119.50,265.90"/><polyline points="168.40,264.90 166.26,267.40 164.18,269.96 161.99,272.42 159.60,274.70 157.59,277.18 155.13,279.24 153.27,281.86 151.03,284.12 148.80,286.40 146.53,288.99 144.46,291.74 142.05,294.22 140.17,297.13 138.00,299.80 135.38,301.85 132.63,303.73 130.16,305.98 127.17,307.54 124.70,309.80"/><polyline points="92.00,254.00 96.03,255.48 100.00,257.10 103.39,258.86 106.67,260.81 109.80,263.00 111.92,265.79 113.70,268.80"/><polyline points="100.00,275.70 103.29,276.59 106.60,277.40 109.80,278.60 112.94,277.85 116.12,277.40 119.36,277.31 122.50,276.60"/><polyline points="186.00,178.10 189.25,177.86 192.49,177.53 195.74,177.34 198.99,177.23 202.26,177.47 205.50,177.10 208.65,177.30 211.75,177.81 214.84,178.45 217.98,178.73 221.10,179.10 224.30,179.93 227.60,180.06 230.86,180.49 234.09,181.12 237.38,181.29 240.60,182.00 244.98,182.57 249.40,182.50 252.86,183.66 256.25,185.00 258.41,187.86 260.30,190.92 262.50,193.75"/><polyline points="191.80,119.50 194.36,121.40 196.98,123.22 199.50,125.17 201.98,127.17 204.24,129.45 207.01,131.09 209.40,133.20 212.55,134.29 215.59,135.70 218.75,136.77 221.76,138.25 225.00,139.10 227.93,140.54 230.88,141.94 233.73,143.53 236.70,144.90 238.83,147.09 240.37,149.79 242.66,151.86 244.61,154.20 246.50,156.60"/><polyline points="236.70,103.90 236.78,107.15 236.94,110.40 236.96,113.65 236.90,116.90 236.49,120.15 236.70,123.40 236.52,126.94 236.03,130.45 235.41,133.94 235.15,137.48 234.80,141.00 235.43,144.04 236.74,146.86 237.76,149.78 238.58,152.76 239.85,155.60 240.60,158.60 241.61,161.56 243.29,164.20 244.58,167.03 245.67,169.95 247.35,172.59 248.28,175.59 249.45,178.47 251.12,181.12 252.30,184.00"/><polyline points="169.00,135.80 172.51,136.32 176.04,136.76 179.50,137.60 181.30,142.85 184.80,146.40 185.36,149.88 185.60,153.38 185.70,156.90 186.67,160.50 188.22,163.90 189.20,167.50 191.34,170.35 193.21,173.39 195.40,176.20"/><polyline points="215.60,120.00 216.84,122.90 218.16,125.78 219.10,128.80 221.48,130.82 223.64,133.06 225.55,135.55 227.90,137.60"/><polyline points="140.00,172.70 142.39,175.59 144.85,178.42 147.00,181.50 148.80,187.00"/><polyline points="154.00,142.85 156.06,145.87 158.20,148.84 160.22,151.90 162.00,155.10 163.70,157.88 164.87,160.95 166.75,163.63 168.10,166.60 170.53,169.74 172.68,173.09 175.15,176.20 179.57,176.68 184.00,177.10"/><polyline points="120.20,189.90 123.94,189.82 127.68,189.66 131.41,189.64 135.15,189.90 139.54,190.12 143.90,190.75 146.95,191.39 150.08,191.43 153.14,191.97 156.20,192.50 158.96,189.55 161.50,186.40 164.16,184.48 166.99,182.80 169.41,180.57 172.02,178.59 174.70,176.70 179.09,177.24 183.50,177.60"/><polyline points="100.00,185.50 103.52,185.60 107.05,185.62 110.57,185.78 114.09,186.02 117.60,186.40"/><polyline points="133.40,163.50 135.49,165.78 137.65,168.01 139.50,170.50 141.71,173.00 143.66,175.68 145.33,178.58 147.50,181.10 150.53,183.59 153.36,186.30 156.20,189.00"/><polyline points="133.40,171.40 134.64,174.30 135.96,177.18 136.90,180.20 140.08,181.29 143.13,182.67 146.04,184.37 149.20,185.50 152.81,187.53 156.20,189.90"/><polyline points="156.20,192.50 154.53,195.18 152.93,197.90 151.00,200.40 151.68,203.44 152.05,206.52 152.07,209.65 152.70,212.70 152.47,216.30 151.94,219.86 151.28,223.41 151.00,227.00 151.54,230.24 151.79,233.53 152.70,236.70 151.73,240.03 150.81,243.37 149.69,246.65 148.80,250.00"/><polyline points="100.00,129.30 103.24,128.89 106.48,128.39 109.72,128.04 112.98,127.77 116.27,127.84 119.50,127.30 122.01,125.51 124.68,123.99 127.43,122.58 129.98,120.86 132.77,119.52 135.20,117.60 138.43,115.63 141.63,113.61 144.90,111.70"/><polyline points="92.00,167.00 96.01,167.37 100.00,167.90 104.42,168.11 108.80,168.80 111.75,168.18 114.74,167.88 117.76,167.93 120.70,167.16 123.70,167.00 123.61,163.50 123.70,160.00 126.59,158.12 129.30,156.00"/><polyline points="92.00,144.90 95.05,144.61 98.09,144.24 101.15,144.01 104.21,143.85 107.29,144.05 110.32,143.43 113.38,143.33 116.45,143.36 119.50,143.00 122.77,142.38 126.10,142.04 129.30,141.04 132.55,140.34 135.85,139.84 139.10,139.10"/><polyline points="240.30,-30.60 240.38,-27.10 240.54,-23.60 240.56,-20.10 240.30,-16.60 238.72,-13.55 236.62,-10.81 235.22,-7.65 233.30,-4.80 232.21,-1.84 230.81,1.00 229.75,3.96 228.60,6.90 227.85,10.36 227.81,13.90 227.40,17.40 226.28,20.65 224.96,23.82 224.09,27.15 222.70,30.30 222.78,34.23 223.60,38.09 223.90,42.00 226.30,44.61 228.46,47.43 230.90,50.00"/><polyline points="205.20,22.10 209.09,21.26 212.95,20.33 216.90,19.80 220.34,18.75 223.86,18.00 227.40,17.40 230.59,18.20 233.89,18.40 237.09,19.11 240.30,19.80 241.50,23.30"/><polyline points="211.00,8.00 214.53,7.92 218.07,7.76 221.60,8.00 223.75,11.00 225.64,14.16 227.40,17.40"/><polyline points="227.40,17.40 229.18,14.84 230.89,12.23 232.72,9.71 234.61,7.22 236.78,4.95 238.30,2.20 240.30,-0.20"/><polyline points="181.70,46.70 184.61,45.84 187.50,44.90 190.43,44.10 193.38,43.37 196.42,42.98 199.30,42.00 203.16,41.04 207.08,40.37 211.00,39.70 213.98,38.66 216.86,37.38 219.91,36.50 222.70,35.00"/><polyline points="199.30,32.70 203.18,31.82 207.05,30.86 211.00,30.30 214.90,30.04 218.80,30.10 222.70,30.30"/><polyline points="58.30,286.50 61.62,286.71 64.95,286.83 68.27,287.09 71.58,287.43 74.87,288.12 78.20,288.20 81.54,288.32 84.85,288.75 88.15,289.31 91.48,289.51 94.80,289.80 98.08,290.49 101.44,290.47 104.77,290.76 108.07,291.25 111.40,291.50 115.23,290.71 119.18,290.68 123.00,289.80"/><polyline points="61.60,274.90 64.91,274.48 68.22,273.98 71.53,273.62 74.86,273.34 78.20,273.20 81.49,273.91 84.87,274.00 88.17,274.61 91.46,275.35 94.80,275.70 98.12,275.91 101.42,276.41 104.76,276.23 108.08,276.36 111.40,276.60 114.74,276.26 118.02,275.53 121.42,275.64 124.70,274.90"/><polyline points="74.90,314.70 77.71,316.30 80.56,317.83 83.20,319.70 86.91,319.24 90.64,319.10 94.39,319.31 98.10,318.90 101.39,318.20 104.73,317.81 108.08,317.55 111.38,316.93 114.70,316.40 118.09,316.18 121.37,315.26 124.70,314.70"/><polyline points="83.20,303.10 87.08,303.59 90.97,304.00 94.80,304.80 98.09,304.26 101.42,304.03 104.77,304.16 108.05,303.47 111.38,303.29 114.70,303.10"/><polyline points="111.40,329.70 114.12,327.41 116.78,325.05 119.70,323.00 122.89,321.12 126.30,319.70 128.14,322.36 129.46,325.34 131.30,328.00 133.00,333.00"/><polyline points="149.60,319.70 149.92,315.97 150.16,312.22 150.54,308.50 151.20,304.80 153.57,302.57 156.33,300.81 158.57,298.42 161.20,296.50 164.51,295.98 167.87,295.80 171.18,295.26 174.50,294.80 175.66,292.00 176.14,289.00 176.91,286.08 177.80,283.20 177.32,279.32 176.44,275.50 176.10,271.60 176.84,268.32 176.85,264.94 177.29,261.61 177.80,258.30"/><polyline points="154.60,333.00 156.18,329.64 157.69,326.24 159.32,322.91 161.20,319.70 163.56,317.08 166.35,314.90 168.56,312.13 171.20,309.80 174.45,307.49 177.88,305.46 181.10,303.10 184.42,304.79 187.61,306.75 191.10,308.10 191.93,311.00 192.81,313.88 193.49,316.82 194.40,319.70 193.52,323.10 191.89,326.27 191.10,329.70 191.20,333.02 191.19,336.35 190.95,339.68 191.10,343.00"/><polyline points="171.20,318.10 173.34,315.29 175.41,312.42 177.80,309.80 180.94,307.10 184.40,304.80"/></g><g fill="none" stroke="#70ab45" stroke-width="1" stroke-linejoin="round"><polyline points="205.10,271.00 206.60,268.19 208.53,265.63 209.80,262.69 211.50,260.00 213.71,257.92 216.32,256.38 218.75,254.60 221.59,252.93 224.30,251.07 226.77,248.84 229.70,247.30 231.97,243.65 234.25,240.00 236.48,237.59 238.78,235.26 241.69,233.58 243.93,231.19 246.13,228.75 248.60,226.60"/><polyline points="200.50,294.70 201.68,291.91 203.30,289.33 204.23,286.43 205.30,283.59 206.90,281.00 208.48,278.26 210.26,275.64 211.82,272.90 213.30,270.10 215.50,267.70 218.17,265.83 220.60,263.70 223.66,263.76 226.70,263.93 229.70,264.60 232.87,263.76 235.83,262.35 238.80,261.00 242.76,260.56 246.75,260.55 250.70,260.00 252.27,256.00 253.40,251.85 253.31,247.87 253.91,243.94 254.30,240.00 255.66,236.93 256.98,233.84 258.80,231.00 260.08,228.14 261.28,225.25 262.09,222.22 263.20,219.30"/><polyline points="229.70,264.60 229.45,267.89 228.72,271.13 228.74,274.45 228.61,277.76 227.90,281.00 226.07,284.66 224.20,288.30"/><polyline points="238.80,261.00 238.31,264.65 237.34,268.22 237.00,271.90 238.48,275.28 240.08,278.62 241.14,282.17 242.50,285.60"/><polyline points="201.70,244.20 203.67,241.78 206.02,239.70 207.79,237.10 209.68,234.61 212.00,232.50 214.91,231.60 217.89,230.91 220.80,230.00 223.58,228.65 226.60,228.10 230.50,227.60 234.37,226.86 238.30,226.60 241.63,225.27 245.27,225.04 248.60,223.70 251.58,222.67 254.40,221.24 257.44,220.36 260.37,219.20 263.20,217.80 266.44,215.52 270.02,213.85 273.50,212.00"/><polyline points="260.30,272.00 262.17,269.00 264.45,266.28 266.20,263.20 266.81,259.53 267.30,255.83 268.35,252.25 269.10,248.60 268.55,244.89 267.79,241.22 266.58,237.64 266.20,233.90 264.00,231.70 261.80,229.50"/><polyline points="272.00,248.60 274.28,250.72 276.21,253.19 278.68,255.12 280.80,257.40"/><polyline points="289.60,209.00 289.53,212.12 288.96,215.21 289.16,218.34 289.20,221.47 288.68,224.56 288.29,227.66 288.14,230.78 288.10,233.90 289.07,236.77 289.36,239.79 290.22,242.68 290.98,245.59 290.87,248.69 291.71,251.59 292.50,254.50 296.16,254.01 299.87,253.97 303.55,253.61 307.20,253.00 310.30,254.11 313.08,255.84 316.03,257.24 319.04,258.52 321.80,260.30 322.61,263.30 323.52,266.26 324.80,269.10"/></g><g fill="none" stroke="#0c0c0c" stroke-width="1.75" stroke-linejoin="round"><polygon points="244.50,-34.20 245.47,-32.64 244.98,-30.67 245.57,-29.00 246.40,-27.40 246.56,-25.41 246.05,-23.48 245.93,-21.51 245.47,-19.58 245.50,-17.60 244.90,-15.89 245.66,-14.02 245.56,-12.25 244.23,-10.61 244.50,-8.80 243.92,-6.84 242.82,-5.05 242.50,-3.00 242.50,-0.50 244.58,0.85 245.60,3.10 247.40,3.73 249.04,4.79 251.06,4.85 252.70,5.90 253.30,8.34 255.00,10.20 255.95,12.12 258.24,12.86 259.62,14.41 260.50,16.40 261.38,18.26 261.82,20.35 263.30,21.90 265.43,22.07 267.56,22.17 269.60,22.90 271.05,23.85 272.76,24.44 273.75,26.00 274.31,27.71 274.19,29.49 274.28,31.25 274.82,32.96 275.00,34.71 274.80,36.50 273.75,39.60 272.84,41.24 271.38,42.39 270.36,43.92 269.44,45.55 267.37,46.17 266.47,47.81 265.17,49.11 264.45,50.90 262.40,51.54 261.33,53.04 260.91,55.10 259.48,56.28 258.10,57.50 258.60,60.00 258.80,62.03 259.31,63.97 259.51,66.00 260.60,67.80 259.95,69.79 259.10,71.70 257.30,72.24 255.84,73.36 254.40,74.50 254.29,76.35 254.80,78.01 255.90,79.50 257.40,80.75 258.34,82.34 258.43,84.47 259.80,85.80 261.79,86.88 263.92,87.56 266.10,88.10 266.17,89.91 265.55,91.63 265.35,93.41 265.30,95.20 267.23,95.66 269.20,95.90 269.68,97.73 269.30,99.57 269.20,101.40 267.70,103.75 269.74,105.21 271.60,106.90 271.74,108.84 271.81,110.80 272.32,112.66 273.31,114.40 273.89,116.24 274.57,118.05 274.70,120.00 273.50,121.75 275.46,122.49 276.60,124.25 278.75,124.48 280.39,125.87 282.25,126.75 282.83,128.89 282.90,131.10 284.07,132.47 284.52,134.35 286.00,135.50 286.80,137.60 287.59,139.70 288.50,141.75 286.96,142.71 285.40,143.61 283.50,143.60 281.59,143.54 279.75,143.00 278.03,144.12 275.98,144.25 274.10,144.90 275.08,146.85 276.86,147.97 278.50,149.25 276.91,151.17 274.75,152.40 273.80,153.93 273.51,155.63 273.50,157.40 271.56,157.48 269.65,157.64 267.90,158.60 267.62,156.62 267.02,154.74 266.00,153.00 264.80,151.65 264.48,149.68 262.90,148.60 260.96,147.66 258.76,148.47 256.84,147.35 254.75,147.40 252.96,148.74 251.60,150.50 251.65,152.38 251.60,154.25 250.02,156.10 248.50,158.00 250.06,159.87 251.60,161.75 251.68,164.05 252.90,166.00 252.35,167.75 251.36,169.36 251.25,171.25 252.97,172.68 254.40,174.40 253.54,176.50 253.75,178.75 254.60,180.40 256.29,181.21 257.43,182.57 258.75,183.75 259.51,185.95 261.25,187.50 261.91,189.52 263.14,191.24 264.41,192.95 265.00,195.00 265.25,197.50 265.00,200.00 266.05,201.45 267.50,202.50 269.32,201.84 271.29,202.67 273.10,201.90 275.14,202.65 276.59,204.47 278.75,205.00 280.26,203.54 282.47,203.01 283.75,201.25 285.48,200.89 287.00,200.01 288.63,199.40 290.33,198.95 291.92,198.24 293.50,197.50 294.32,199.40 294.36,201.47 295.06,203.40 295.20,205.45 295.80,207.40 297.80,208.38 300.16,208.47 302.00,209.85 303.15,211.39 302.55,213.44 303.82,214.95 304.36,216.67 304.50,218.50 305.24,220.23 306.99,220.96 307.85,222.56 309.44,223.45 310.50,224.85 312.22,225.61 313.10,227.20 313.24,229.08 313.24,230.99 314.04,232.76 314.40,234.60 315.93,235.53 317.62,236.06 319.56,235.88 320.87,237.41 322.61,237.80 324.30,238.30 325.54,239.59 326.87,240.82 326.93,242.94 328.40,244.08 329.13,245.73 330.40,247.00 329.87,248.98 330.10,250.96 329.81,252.94 330.55,254.92 330.40,256.90 329.86,258.60 330.24,260.37 329.43,262.05 329.39,263.78 330.36,265.59 330.19,267.32 329.96,269.04 328.79,270.69 329.41,272.48 329.20,274.20 327.29,274.66 325.59,275.71 323.65,276.07 321.80,276.70 320.74,275.23 319.77,273.71 319.13,271.99 318.10,270.50 316.06,269.98 314.07,269.14 311.90,269.30 311.19,267.62 310.57,265.89 309.55,264.39 308.20,263.10 306.71,262.00 304.93,262.00 303.20,261.80 301.20,261.65 299.50,260.60 297.91,261.48 296.57,262.61 295.80,264.30 292.50,264.00 293.13,265.71 293.58,267.45 293.30,269.30 294.26,270.87 295.40,272.35 295.80,274.20 296.41,276.27 295.94,278.33 295.80,280.40 293.30,279.81 290.80,280.40 288.76,280.95 286.93,281.92 285.42,283.52 283.40,284.10 282.55,286.05 282.09,288.15 281.00,290.00 279.57,288.65 278.45,287.10 277.54,285.42 277.33,283.27 276.18,281.75 274.75,280.40 273.43,279.11 271.89,278.19 269.92,277.99 268.60,276.70 266.73,276.97 264.85,276.52 262.98,276.38 261.10,276.70 259.85,278.11 259.02,279.73 258.70,281.60 257.81,283.53 255.94,284.60 254.54,286.09 253.40,287.80 251.30,287.84 249.21,288.35 247.10,287.99 245.00,288.00 242.88,288.37 240.93,286.99 238.80,287.40 236.99,288.05 235.73,289.48 234.41,290.83 232.40,291.20 231.16,292.65 229.70,293.80 228.67,292.25 227.27,291.15 225.60,290.38 224.15,289.34 222.94,288.01 221.43,287.05 219.82,286.20 218.75,284.70 217.76,286.39 215.99,287.46 215.63,289.65 214.41,291.16 212.57,292.17 211.50,293.80 212.25,295.78 212.35,297.91 212.89,299.94 213.30,302.00 211.96,303.09 210.01,303.21 209.14,305.06 207.52,305.70 206.00,306.50 203.50,308.00 203.33,309.85 203.50,311.70 202.23,313.52 201.20,315.45 200.60,317.60 199.12,318.73 198.39,320.35 197.70,322.00 196.75,323.71 197.60,325.78 196.62,327.48 196.20,329.30 196.10,331.18 197.00,332.76 197.16,334.56 198.72,335.95 198.74,337.79 199.20,339.50 198.49,341.17 197.15,342.40 196.20,343.90 194.39,344.69 192.98,346.27 191.10,346.89 189.30,347.70 187.40,348.30 187.34,350.41 188.04,352.32 188.90,354.20 187.40,351.30 185.66,352.12 183.67,351.59 182.02,352.85 180.10,352.70 178.39,351.96 176.42,352.04 174.60,351.62 173.22,349.89 171.30,349.80 169.54,349.95 167.84,349.69 166.30,348.38 164.58,348.28 162.76,348.84 161.10,348.30 159.17,349.32 158.11,351.21 156.50,352.55 155.20,354.20 156.98,355.80 158.10,357.90 156.29,358.45 155.20,360.00 154.73,357.76 153.75,355.70 153.19,353.84 152.02,352.42 150.26,351.44 149.40,349.80 148.83,348.01 148.19,346.24 147.79,344.42 147.90,342.50 145.77,343.35 143.50,343.00 143.50,345.40 141.72,345.24 140.00,345.45 138.35,346.17 136.68,346.73 135.02,347.34 133.20,346.90 131.47,347.09 129.87,347.77 128.10,347.79 126.56,348.73 124.75,348.60 123.25,349.69 121.50,349.80 119.77,349.49 118.08,349.71 116.41,350.27 114.70,350.21 112.98,350.13 111.30,350.50 109.26,349.99 107.63,348.63 105.94,347.42 103.90,346.90 102.27,346.19 101.24,344.58 99.70,343.73 98.37,342.57 96.52,342.17 95.20,341.00 93.42,340.51 92.50,338.72 91.03,337.74 89.29,337.20 87.55,336.64 86.40,335.20 84.62,335.05 83.16,333.92 81.36,333.83 80.00,332.40 78.19,332.33 76.37,332.30 74.92,331.14 73.20,330.80 72.11,329.42 71.87,327.52 70.93,326.06 69.54,324.87 68.60,323.40 67.41,321.96 66.13,320.60 64.60,319.50 64.02,317.34 63.27,315.27 61.70,313.60 60.01,312.84 59.11,311.29 58.13,309.82 56.80,308.70 56.73,306.91 57.32,305.19 56.83,303.36 58.13,301.72 57.80,299.90 59.78,299.30 61.57,298.12 63.70,298.00 62.38,295.91 60.70,294.10 59.30,292.79 57.97,291.42 57.08,289.69 55.90,288.20 54.91,286.64 54.51,284.91 54.89,282.96 53.90,281.40 55.13,280.05 55.90,278.40 57.53,276.82 59.94,276.81 61.70,275.50 61.55,273.38 62.70,271.60 63.82,269.82 65.74,268.69 66.60,266.70 66.09,265.00 65.02,263.54 64.60,261.80 64.93,259.36 65.60,257.00 67.43,256.55 69.30,256.40 71.23,255.76 73.26,256.86 75.14,255.42 77.13,255.81 79.10,255.80 78.46,253.80 78.30,251.70 76.86,250.28 76.43,248.24 74.71,246.99 74.20,245.00 73.62,243.31 72.77,241.72 71.75,240.19 71.70,238.30 72.54,236.64 72.79,234.68 74.20,233.30 72.50,230.80 70.62,230.06 68.57,229.71 66.75,228.86 65.10,227.62 63.30,226.70 61.73,227.63 60.80,229.20 58.81,229.29 56.96,228.73 55.21,227.75 53.30,227.50 52.29,225.61 50.48,224.52 48.85,223.25 47.50,221.70 46.13,220.27 43.88,220.60 42.50,219.20 43.00,216.70 42.50,214.20 42.79,212.44 43.16,210.71 44.20,209.20 42.89,207.77 42.29,205.99 41.70,204.20 42.53,202.18 42.50,200.00 40.38,200.24 38.36,199.49 36.29,199.21 34.20,199.20 33.40,197.32 33.00,195.31 32.30,193.40 31.15,191.64 30.57,189.71 30.60,187.60 29.89,185.92 30.00,184.10 31.92,183.02 33.47,181.45 35.30,180.25 36.99,179.57 38.80,179.40 40.51,180.21 42.30,180.80 43.42,179.49 44.43,178.08 45.80,177.00 47.16,178.29 48.79,179.11 50.68,179.49 52.01,180.82 53.62,181.70 55.20,182.60 57.14,182.50 58.84,181.70 60.50,180.80 59.91,178.64 59.90,176.40 62.12,176.80 64.10,175.34 66.30,175.60 67.90,175.40 68.52,173.26 70.41,171.75 70.80,169.50 72.64,168.61 74.74,169.02 76.51,167.79 78.49,167.63 80.50,167.60 82.36,167.21 83.23,165.31 85.03,164.84 86.40,163.70 87.32,161.71 88.27,159.74 89.30,157.80 88.99,156.12 88.28,154.52 88.86,152.68 87.53,151.18 87.80,149.40 88.31,147.56 88.89,145.75 90.04,144.24 91.06,142.66 92.52,141.30 92.71,139.30 93.70,137.70 91.90,137.15 90.70,135.70 89.62,134.29 89.76,132.27 87.81,131.29 87.73,129.38 86.80,127.90 87.43,126.26 88.56,124.88 88.94,123.12 90.16,121.78 90.70,120.10 92.46,121.08 94.12,122.24 95.71,123.53 97.68,124.12 99.50,125.00 100.65,123.39 102.06,122.08 104.32,121.81 105.40,120.10 107.11,119.60 108.71,118.71 110.71,119.24 112.28,118.26 114.05,117.97 115.82,117.69 117.31,116.40 119.10,116.20 120.61,115.05 122.61,114.69 123.68,112.81 125.76,112.58 126.89,110.80 128.80,110.30 130.81,110.18 132.77,109.82 134.80,109.78 136.73,109.25 138.60,108.40 140.32,109.38 142.26,109.98 144.02,110.90 145.50,112.30 147.54,112.05 149.60,111.90 151.52,112.15 153.47,112.25 155.13,113.66 157.27,112.91 159.00,114.00 160.55,113.13 162.37,112.74 163.36,110.86 165.24,110.57 166.83,109.77 168.30,108.75 169.98,107.94 171.77,108.23 173.55,108.51 175.26,107.98 177.04,108.19 178.75,107.70 179.80,104.60 180.64,102.89 181.92,101.56 183.40,100.40 182.36,98.90 182.37,97.08 182.41,95.24 181.44,93.72 180.80,92.10 181.69,90.38 181.69,88.40 182.71,86.72 182.90,84.80 181.18,84.21 179.96,82.97 178.75,81.70 178.19,79.78 177.47,77.92 176.29,76.27 175.60,74.40 175.02,72.30 175.27,70.20 175.19,68.10 175.60,66.00 175.37,64.27 176.18,62.59 175.39,60.84 176.43,59.17 176.49,57.45 175.41,55.69 176.10,54.00 176.53,52.29 176.67,50.51 177.10,48.80 178.17,47.39 178.71,45.62 180.39,44.62 181.00,42.90 182.81,42.77 184.41,41.99 185.86,40.78 187.69,40.70 189.28,39.89 190.92,39.23 192.70,39.00 193.58,37.13 193.89,35.19 192.82,33.07 193.70,31.20 195.12,29.49 195.76,27.40 196.60,25.40 198.06,24.41 199.54,23.45 201.35,23.09 202.74,21.98 204.44,21.41 205.97,20.54 207.40,19.50 207.91,17.31 209.67,15.73 210.30,13.60 210.72,11.80 210.45,10.10 209.71,8.48 209.30,6.80 207.61,5.73 206.36,4.29 205.30,2.70 204.50,0.90 204.01,-0.90 202.50,-2.00 203.80,-3.44 205.33,-4.59 207.28,-5.25 208.40,-6.90 209.71,-8.08 211.34,-8.78 212.70,-9.87 213.86,-11.27 215.72,-11.63 217.10,-12.70 218.67,-13.58 219.21,-15.49 220.50,-16.65 222.00,-17.60 223.59,-18.38 225.02,-19.53 226.90,-19.60 226.40,-21.55 225.90,-23.50 226.83,-25.34 226.90,-27.40 228.65,-28.18 230.19,-29.29 231.80,-30.30 233.62,-30.49 234.89,-32.06 236.73,-32.16 238.27,-33.06 240.02,-33.42 241.60,-34.20 244.50,-34.20"/><polyline points="176.10,54.00 177.92,54.54 179.67,55.28 181.31,56.36 183.32,56.35 185.10,57.01 186.90,57.60 188.61,57.16 190.10,56.07 191.92,55.94 193.64,55.54 195.39,55.20 196.75,53.72 198.60,53.70 200.37,53.06 202.14,52.40 204.16,53.02 205.95,52.49 207.60,51.23 209.68,52.15 211.50,51.76 213.20,50.75 214.44,52.08 215.86,53.21 217.65,53.89 219.16,54.91 220.10,56.60 221.61,57.77 223.53,58.37 224.70,60.00 226.24,61.51 227.35,63.30 228.77,64.88 229.40,67.00 229.18,68.97 228.95,70.93 228.12,72.81 228.31,74.83 227.87,76.77 227.80,78.75 229.75,79.12 231.70,79.50 232.19,81.17 233.15,82.63 234.08,84.10 234.50,85.80"/><polyline points="234.50,85.80 235.60,83.40 237.14,82.07 238.87,80.97 240.30,79.50 241.97,78.94 243.21,77.52 245.00,77.20 247.00,76.25 249.14,76.49 251.25,76.40 252.66,75.18 254.40,74.50"/><polyline points="234.50,85.80 235.20,87.55 234.98,89.48 235.60,91.25 233.88,90.99 232.16,90.76 230.44,91.69 228.72,91.63 227.00,91.25 228.23,92.75 228.91,94.51 229.04,96.52 230.59,97.88 230.90,99.80 229.09,99.51 227.21,99.70 225.41,99.33 223.62,98.89 221.88,98.08 220.00,98.30 216.70,98.60 215.71,100.49 215.00,102.50 213.42,103.68 211.54,103.85 209.82,104.55 207.90,104.60 206.43,105.86 205.46,107.46 204.43,109.01 203.75,110.80 202.33,111.93 201.38,113.39 200.60,115.00 198.53,115.02 196.73,115.85 195.10,117.18 192.97,117.01 191.25,118.10 189.19,118.59 187.04,118.70 185.04,119.44 183.00,120.00 181.28,120.64 179.56,121.28 177.78,121.74 176.08,122.45 174.41,123.26 172.37,122.87 170.62,123.45 169.00,124.40 167.89,125.98 167.84,127.83 167.58,129.63 167.20,131.40 165.58,132.14 164.66,133.86 162.80,134.26 161.57,135.54 160.10,136.50"/><polyline points="145.50,112.30 146.22,114.18 145.57,116.18 145.81,118.09 146.20,120.00 147.71,121.27 149.80,121.10 151.55,121.78 153.04,123.10 154.90,123.50 155.34,125.21 156.46,126.65 156.61,128.47 157.63,129.95 157.79,131.77 159.30,133.05 159.81,134.73 160.10,136.50"/><polyline points="160.10,136.50 158.50,138.50 156.44,138.79 155.25,140.86 153.03,140.83 151.40,142.00 150.67,143.61 148.68,144.16 148.62,146.34 147.00,147.20 145.22,148.25 144.02,149.86 142.44,151.11 140.90,152.39 140.00,154.30 138.72,155.73 137.14,156.76 135.32,157.49 134.19,159.10 132.50,160.00 132.60,161.79 132.43,163.55 131.33,165.19 131.60,167.00 130.26,169.01 129.90,171.40 130.87,173.40 132.50,174.90 131.64,176.61 129.70,177.46 129.00,179.30 127.24,179.00 125.41,179.10 123.70,178.45 122.80,180.20 124.31,181.62 125.81,183.05 127.20,184.60 127.37,186.48 126.40,188.10 124.64,187.17 122.80,186.40 121.25,185.67 119.95,184.52 118.45,183.70 116.85,185.15 116.10,187.12 115.30,189.06 114.10,190.75 114.00,192.64 114.90,194.30 113.00,194.92 111.98,196.64 110.50,197.80 111.18,199.92 113.46,200.95 114.10,203.10 116.07,203.50 117.60,204.80 117.60,206.88 116.10,208.61 115.99,210.67 115.80,212.70 113.64,213.32 111.85,214.77 109.70,215.40 110.57,217.13 110.95,219.11 112.30,220.60 110.86,222.00 109.15,222.87 107.50,223.86 105.50,224.20"/><polyline points="67.90,175.40 69.45,176.38 70.78,177.65 72.20,178.80 73.82,179.46 75.37,180.27 76.90,181.10 77.86,182.54 78.60,184.10 78.23,185.98 78.64,187.93 77.96,189.79 78.00,191.70 79.87,191.85 81.26,192.98 82.70,194.00 84.54,193.92 86.39,193.80 88.15,194.79 90.00,194.60 91.08,196.10 91.32,198.03 91.95,199.75 93.67,200.92 94.20,202.70 95.63,203.86 97.31,204.40 99.01,204.87 100.98,204.69 102.39,205.89 104.00,206.60 104.46,208.62 105.54,210.45 105.90,212.50 106.22,214.46 106.03,216.41 106.04,218.36 105.23,220.29 105.78,222.26 105.50,224.20"/><polyline points="160.10,136.50 159.67,138.79 159.30,141.10 161.30,141.82 163.34,142.34 165.50,142.00 167.00,142.87 167.89,144.49 169.25,145.52 170.75,146.40 171.62,147.94 173.29,148.87 174.43,150.20 175.08,151.90 176.00,153.40 178.08,154.57 180.40,155.10 180.92,156.82 180.76,158.62 181.19,160.35 180.64,162.19 181.30,163.90 181.13,165.82 182.30,167.40 181.92,169.37 183.63,170.82 183.04,172.84 183.90,174.50 184.29,176.56 186.08,177.96 186.50,180.00 186.21,181.80 186.50,183.60 187.63,185.48 188.37,187.62 190.10,189.10 192.00,189.00 193.76,189.76 195.60,190.00 197.58,191.13 199.81,191.42 202.00,191.85 202.90,189.10 204.99,189.31 207.10,189.46 209.00,190.50 211.23,191.77 213.80,191.85 214.43,193.96 214.33,196.27 215.60,198.20 217.71,199.02 219.02,201.03 221.10,201.90 222.24,203.80 223.60,205.50 225.50,206.70"/><polyline points="105.50,224.20 107.21,224.97 108.24,226.62 109.96,227.38 111.52,228.35 112.70,229.80 114.46,230.37 116.22,230.95 117.99,231.51 119.76,232.06 121.50,232.70 122.50,235.60 124.41,235.08 126.35,234.88 128.35,235.30 130.24,234.60 132.20,234.65 134.09,235.37 136.00,236.02 137.93,236.61 140.00,236.60 141.24,235.20 140.99,233.19 142.00,231.70 143.73,229.95 145.90,228.80 147.09,230.95 148.80,232.70 149.71,234.70 150.80,236.60 152.74,236.18 154.68,236.85 156.62,237.12 158.56,237.07 160.50,236.60 162.28,236.88 163.87,237.64 165.66,237.91 166.79,239.82 168.81,239.49 170.30,240.50 172.27,240.82 174.23,240.55 176.20,240.50 177.68,241.78 179.30,242.89 180.61,244.40 182.36,245.33 184.00,246.40 186.07,247.10 187.90,248.30 190.00,247.34 192.29,247.40 194.50,247.00"/><polyline points="225.50,206.70 223.81,207.57 222.17,208.52 220.83,209.90 219.30,211.00 218.39,212.79 217.50,214.60 216.33,215.99 214.45,216.67 213.87,218.65 212.73,220.07 211.34,221.24 210.06,222.52 208.71,223.73 207.49,225.07 206.37,226.51 204.70,227.40 203.64,228.78 202.42,229.99 201.00,231.00 200.46,232.80 200.51,234.75 200.23,236.62 199.20,238.30 198.35,240.36 196.75,241.93 195.60,243.80 194.50,247.00"/><polyline points="225.50,206.70 227.30,206.72 228.83,205.90 230.49,205.48 232.00,204.60 232.72,206.32 234.56,207.08 235.31,208.77 236.60,210.00 238.43,210.15 240.00,209.20 241.65,209.93 243.42,209.73 245.21,209.39 246.88,209.94 248.50,210.97 250.30,210.50 252.08,209.81 253.93,209.98 255.82,210.73 257.59,209.90 259.40,209.43 261.25,209.70 263.28,210.03 265.01,211.40 267.20,211.20 269.10,212.00 270.96,211.60 272.89,211.58 274.81,211.52 276.62,210.79 278.50,210.50"/><polyline points="278.50,210.50 280.00,208.00 280.93,206.46 282.50,205.60 284.34,204.35 285.96,202.84 287.50,201.25 288.98,200.29 290.29,199.04 292.22,198.78 293.50,197.50"/><polyline points="278.50,210.50 278.10,212.43 279.48,214.14 279.88,215.96 278.77,217.99 279.70,219.75 280.14,221.46 280.23,223.16 279.49,224.87 279.92,226.57 279.15,228.28 280.08,229.99 279.06,231.69 279.70,233.40 280.91,234.99 281.56,236.91 282.15,238.86 283.44,240.41 284.65,242.00 284.27,243.93 284.78,245.77 285.90,247.53 284.95,249.53 285.57,251.35 285.90,253.20 287.34,254.51 288.71,255.88 289.24,257.95 290.77,259.19 292.10,260.60 291.69,262.37 292.50,264.00"/><polyline points="194.50,247.00 195.19,249.26 196.90,250.90 195.98,252.63 195.76,254.48 196.00,256.40 197.42,257.97 197.68,260.11 198.80,261.83 199.60,263.70 199.11,265.51 199.20,267.47 198.67,269.28 197.80,271.00 197.43,272.84 197.28,274.74 196.51,276.49 196.00,278.30 196.17,280.29 195.61,282.10 194.29,283.70 194.10,285.60 194.21,287.42 194.08,289.24 193.77,291.06 194.30,292.88 194.10,294.70 196.07,295.80 196.89,298.05 198.70,299.30 199.55,301.10 200.43,302.89 201.43,304.60 201.96,306.58 203.50,308.00"/><polyline points="187.90,248.30 185.84,248.76 183.83,249.33 182.21,250.93 180.10,251.25 178.77,252.97 179.17,255.29 178.10,257.10 176.63,258.23 175.90,260.10 174.20,261.00 173.38,262.62 173.72,264.56 172.50,266.06 172.30,267.85 171.05,269.41 170.03,271.09 169.45,273.03 168.40,274.70 167.40,277.60 165.66,278.61 164.16,279.86 163.64,282.09 161.86,283.06 160.50,284.45 159.86,286.16 160.17,287.87 160.58,289.58 160.77,291.29 160.50,293.00 158.42,294.03 157.20,296.00 155.57,297.33 153.34,297.26 151.43,297.96 149.95,299.64 147.90,300.00 147.23,301.59 146.37,303.06 145.21,304.35 144.54,305.94 143.50,307.30 141.63,307.41 139.95,308.00 138.58,309.43 136.62,309.30 135.35,311.01 133.67,311.60 131.80,311.70 130.59,313.70 129.80,315.90"/><polyline points="105.50,224.20 105.23,225.98 104.05,227.54 103.73,229.31 104.16,231.26 102.83,232.78 102.90,234.65 103.21,237.11 103.90,239.50 104.94,241.03 104.11,243.01 105.47,244.45 105.82,246.15 106.07,247.87 106.27,249.60 106.80,251.25 109.35,251.21 111.70,252.20 111.85,254.02 112.05,255.82 112.88,257.48 112.90,259.33 113.70,261.00 114.52,262.80 115.25,264.65 117.01,265.92 117.60,267.85 119.50,267.18 121.50,266.90 122.83,268.17 124.49,269.11 125.40,270.80 126.40,273.70"/><polyline points="79.10,255.80 79.77,257.55 81.39,258.71 82.35,260.28 82.85,262.14 84.46,263.31 84.90,265.20 86.61,265.91 88.38,266.21 90.34,265.54 92.00,266.50 94.00,266.76 96.00,266.50 98.00,266.69 100.00,266.50 101.66,268.15 103.60,269.29 105.90,269.80 107.88,270.16 109.68,271.24 111.65,271.65 113.70,271.75 115.41,272.68 117.43,271.66 119.05,273.19 121.02,272.48 122.85,272.63 124.57,273.56 126.40,273.70"/><polyline points="126.40,273.70 126.84,275.73 127.40,277.72 128.30,279.60 126.65,280.54 126.30,282.60 125.28,284.07 123.31,284.75 122.50,286.40 122.53,288.15 122.28,289.86 121.46,291.51 122.14,293.33 121.50,295.00 120.10,296.59 119.75,298.69 119.40,300.78 117.45,302.11 117.10,304.20 118.41,305.46 120.24,306.11 120.93,308.10 122.37,309.21 124.00,310.10 125.21,311.79 126.74,313.16 127.86,314.94 129.80,315.90"/><polyline points="129.80,315.90 131.23,317.10 132.19,318.62 132.63,320.47 134.10,321.65 134.70,323.40 136.02,324.62 136.50,326.33 137.44,327.78 138.56,329.11 139.10,330.80 140.67,332.16 141.69,334.07 143.50,335.20 144.02,337.15 143.94,339.10 144.16,341.05 143.50,343.00"/></g><circle cx="165.5" cy="138.9" r="1.5" fill="none" stroke="#111" stroke-width="1"/><ellipse cx="194" cy="138" rx="1.4" ry="2" transform="rotate(-35 194 138)" fill="#a9d6a0" stroke="#8cc39a" stroke-width="0.6"/><g font-family="Liberation Sans" font-weight="bold" font-size="10" fill="#111" text-anchor="middle"><text x="232.5" y="28.5">A</text><text x="204" y="86">B</text><text x="110" y="159">C</text><text x="68" y="216">D</text><text x="86" y="309">E</text><text x="175" y="309">F</text><text x="247" y="251">G</text><text x="304" y="251">H</text><text x="216" y="158">I</text><text x="160" y="201">L</text><text x="146" y="272">M</text></g></g><g transform="translate(0,488)"><polygon points="273.75,21.10 276.10,17.20 280.80,15.60 284.70,12.50 288.60,11.70 290.90,14.80 290.20,16.40 284.70,18.75 280.00,22.70 276.10,25.80" fill="#dcecf8" stroke="#dcecf8" stroke-width="1"/><polyline points="273.40,26.60 274.50,32.80 275.30,38.30 267.50,46.90 258.10,57.80 258.30,60.00 260.60,67.80 259.10,71.70 254.40,74.50" fill="none" stroke="#d6e9f7" stroke-width="5.5" stroke-linejoin="round"/><polygon points="244.50,-34.20 245.47,-32.64 244.98,-30.67 245.57,-29.00 246.40,-27.40 246.56,-25.41 246.05,-23.48 245.93,-21.51 245.47,-19.58 245.50,-17.60 244.90,-15.89 245.66,-14.02 245.56,-12.25 244.23,-10.61 244.50,-8.80 243.92,-6.84 242.82,-5.05 242.50,-3.00 242.50,-0.50 244.58,0.85 245.60,3.10 247.40,3.73 249.04,4.79 251.06,4.85 252.70,5.90 253.30,8.34 255.00,10.20 255.95,12.12 258.24,12.86 259.62,14.41 260.50,16.40 261.38,18.26 261.82,20.35 263.30,21.90 265.43,22.07 267.56,22.17 269.60,22.90 271.05,23.85 272.76,24.44 273.75,26.00 274.31,27.71 274.19,29.49 274.28,31.25 274.82,32.96 275.00,34.71 274.80,36.50 273.75,39.60 272.84,41.24 271.38,42.39 270.36,43.92 269.44,45.55 267.37,46.17 266.47,47.81 265.17,49.11 264.45,50.90 262.40,51.54 261.33,53.04 260.91,55.10 259.48,56.28 258.10,57.50 258.60,60.00 258.80,62.03 259.31,63.97 259.51,66.00 260.60,67.80 259.95,69.79 259.10,71.70 257.30,72.24 255.84,73.36 254.40,74.50 254.29,76.35 254.80,78.01 255.90,79.50 257.40,80.75 258.34,82.34 258.43,84.47 259.80,85.80 261.79,86.88 263.92,87.56 266.10,88.10 266.17,89.91 265.55,91.63 265.35,93.41 265.30,95.20 267.23,95.66 269.20,95.90 269.68,97.73 269.30,99.57 269.20,101.40 267.70,103.75 269.74,105.21 271.60,106.90 271.74,108.84 271.81,110.80 272.32,112.66 273.31,114.40 273.89,116.24 274.57,118.05 274.70,120.00 273.50,121.75 275.46,122.49 276.60,124.25 278.75,124.48 280.39,125.87 282.25,126.75 282.83,128.89 282.90,131.10 284.07,132.47 284.52,134.35 286.00,135.50 286.80,137.60 287.59,139.70 288.50,141.75 286.96,142.71 285.40,143.61 283.50,143.60 281.59,143.54 279.75,143.00 278.03,144.12 275.98,144.25 274.10,144.90 275.08,146.85 276.86,147.97 278.50,149.25 276.91,151.17 274.75,152.40 273.80,153.93 273.51,155.63 273.50,157.40 271.56,157.48 269.65,157.64 267.90,158.60 267.62,156.62 267.02,154.74 266.00,153.00 264.80,151.65 264.48,149.68 262.90,148.60 260.96,147.66 258.76,148.47 256.84,147.35 254.75,147.40 252.96,148.74 251.60,150.50 251.65,152.38 251.60,154.25 250.02,156.10 248.50,158.00 250.06,159.87 251.60,161.75 251.68,164.05 252.90,166.00 252.35,167.75 251.36,169.36 251.25,171.25 252.97,172.68 254.40,174.40 253.54,176.50 253.75,178.75 254.60,180.40 256.29,181.21 257.43,182.57 258.75,183.75 259.51,185.95 261.25,187.50 261.91,189.52 263.14,191.24 264.41,192.95 265.00,195.00 265.25,197.50 265.00,200.00 266.05,201.45 267.50,202.50 269.32,201.84 271.29,202.67 273.10,201.90 275.14,202.65 276.59,204.47 278.75,205.00 280.26,203.54 282.47,203.01 283.75,201.25 285.48,200.89 287.00,200.01 288.63,199.40 290.33,198.95 291.92,198.24 293.50,197.50 294.32,199.40 294.36,201.47 295.06,203.40 295.20,205.45 295.80,207.40 297.80,208.38 300.16,208.47 302.00,209.85 303.15,211.39 302.55,213.44 303.82,214.95 304.36,216.67 304.50,218.50 305.24,220.23 306.99,220.96 307.85,222.56 309.44,223.45 310.50,224.85 312.22,225.61 313.10,227.20 313.24,229.08 313.24,230.99 314.04,232.76 314.40,234.60 315.93,235.53 317.62,236.06 319.56,235.88 320.87,237.41 322.61,237.80 324.30,238.30 325.54,239.59 326.87,240.82 326.93,242.94 328.40,244.08 329.13,245.73 330.40,247.00 329.87,248.98 330.10,250.96 329.81,252.94 330.55,254.92 330.40,256.90 329.86,258.60 330.24,260.37 329.43,262.05 329.39,263.78 330.36,265.59 330.19,267.32 329.96,269.04 328.79,270.69 329.41,272.48 329.20,274.20 327.29,274.66 325.59,275.71 323.65,276.07 321.80,276.70 320.74,275.23 319.77,273.71 319.13,271.99 318.10,270.50 316.06,269.98 314.07,269.14 311.90,269.30 311.19,267.62 310.57,265.89 309.55,264.39 308.20,263.10 306.71,262.00 304.93,262.00 303.20,261.80 301.20,261.65 299.50,260.60 297.91,261.48 296.57,262.61 295.80,264.30 292.50,264.00 293.13,265.71 293.58,267.45 293.30,269.30 294.26,270.87 295.40,272.35 295.80,274.20 296.41,276.27 295.94,278.33 295.80,280.40 293.30,279.81 290.80,280.40 288.76,280.95 286.93,281.92 285.42,283.52 283.40,284.10 282.55,286.05 282.09,288.15 281.00,290.00 279.57,288.65 278.45,287.10 277.54,285.42 277.33,283.27 276.18,281.75 274.75,280.40 273.43,279.11 271.89,278.19 269.92,277.99 268.60,276.70 266.73,276.97 264.85,276.52 262.98,276.38 261.10,276.70 259.85,278.11 259.02,279.73 258.70,281.60 257.81,283.53 255.94,284.60 254.54,286.09 253.40,287.80 251.30,287.84 249.21,288.35 247.10,287.99 245.00,288.00 242.88,288.37 240.93,286.99 238.80,287.40 236.99,288.05 235.73,289.48 234.41,290.83 232.40,291.20 231.16,292.65 229.70,293.80 228.67,292.25 227.27,291.15 225.60,290.38 224.15,289.34 222.94,288.01 221.43,287.05 219.82,286.20 218.75,284.70 217.76,286.39 215.99,287.46 215.63,289.65 214.41,291.16 212.57,292.17 211.50,293.80 212.25,295.78 212.35,297.91 212.89,299.94 213.30,302.00 211.96,303.09 210.01,303.21 209.14,305.06 207.52,305.70 206.00,306.50 203.50,308.00 203.33,309.85 203.50,311.70 202.23,313.52 201.20,315.45 200.60,317.60 199.12,318.73 198.39,320.35 197.70,322.00 196.75,323.71 197.60,325.78 196.62,327.48 196.20,329.30 196.10,331.18 197.00,332.76 197.16,334.56 198.72,335.95 198.74,337.79 199.20,339.50 198.49,341.17 197.15,342.40 196.20,343.90 194.39,344.69 192.98,346.27 191.10,346.89 189.30,347.70 187.40,348.30 187.34,350.41 188.04,352.32 188.90,354.20 187.40,351.30 185.66,352.12 183.67,351.59 182.02,352.85 180.10,352.70 178.39,351.96 176.42,352.04 174.60,351.62 173.22,349.89 171.30,349.80 169.54,349.95 167.84,349.69 166.30,348.38 164.58,348.28 162.76,348.84 161.10,348.30 159.17,349.32 158.11,351.21 156.50,352.55 155.20,354.20 156.98,355.80 158.10,357.90 156.29,358.45 155.20,360.00 154.73,357.76 153.75,355.70 153.19,353.84 152.02,352.42 150.26,351.44 149.40,349.80 148.83,348.01 148.19,346.24 147.79,344.42 147.90,342.50 145.77,343.35 143.50,343.00 143.50,345.40 141.72,345.24 140.00,345.45 138.35,346.17 136.68,346.73 135.02,347.34 133.20,346.90 131.47,347.09 129.87,347.77 128.10,347.79 126.56,348.73 124.75,348.60 123.25,349.69 121.50,349.80 119.77,349.49 118.08,349.71 116.41,350.27 114.70,350.21 112.98,350.13 111.30,350.50 109.26,349.99 107.63,348.63 105.94,347.42 103.90,346.90 102.27,346.19 101.24,344.58 99.70,343.73 98.37,342.57 96.52,342.17 95.20,341.00 93.42,340.51 92.50,338.72 91.03,337.74 89.29,337.20 87.55,336.64 86.40,335.20 84.62,335.05 83.16,333.92 81.36,333.83 80.00,332.40 78.19,332.33 76.37,332.30 74.92,331.14 73.20,330.80 72.11,329.42 71.87,327.52 70.93,326.06 69.54,324.87 68.60,323.40 67.41,321.96 66.13,320.60 64.60,319.50 64.02,317.34 63.27,315.27 61.70,313.60 60.01,312.84 59.11,311.29 58.13,309.82 56.80,308.70 56.73,306.91 57.32,305.19 56.83,303.36 58.13,301.72 57.80,299.90 59.78,299.30 61.57,298.12 63.70,298.00 62.38,295.91 60.70,294.10 59.30,292.79 57.97,291.42 57.08,289.69 55.90,288.20 54.91,286.64 54.51,284.91 54.89,282.96 53.90,281.40 55.13,280.05 55.90,278.40 57.53,276.82 59.94,276.81 61.70,275.50 61.55,273.38 62.70,271.60 63.82,269.82 65.74,268.69 66.60,266.70 66.09,265.00 65.02,263.54 64.60,261.80 64.93,259.36 65.60,257.00 67.43,256.55 69.30,256.40 71.23,255.76 73.26,256.86 75.14,255.42 77.13,255.81 79.10,255.80 78.46,253.80 78.30,251.70 76.86,250.28 76.43,248.24 74.71,246.99 74.20,245.00 73.62,243.31 72.77,241.72 71.75,240.19 71.70,238.30 72.54,236.64 72.79,234.68 74.20,233.30 72.50,230.80 70.62,230.06 68.57,229.71 66.75,228.86 65.10,227.62 63.30,226.70 61.73,227.63 60.80,229.20 58.81,229.29 56.96,228.73 55.21,227.75 53.30,227.50 52.29,225.61 50.48,224.52 48.85,223.25 47.50,221.70 46.13,220.27 43.88,220.60 42.50,219.20 43.00,216.70 42.50,214.20 42.79,212.44 43.16,210.71 44.20,209.20 42.89,207.77 42.29,205.99 41.70,204.20 42.53,202.18 42.50,200.00 40.38,200.24 38.36,199.49 36.29,199.21 34.20,199.20 33.40,197.32 33.00,195.31 32.30,193.40 31.15,191.64 30.57,189.71 30.60,187.60 29.89,185.92 30.00,184.10 31.92,183.02 33.47,181.45 35.30,180.25 36.99,179.57 38.80,179.40 40.51,180.21 42.30,180.80 43.42,179.49 44.43,178.08 45.80,177.00 47.16,178.29 48.79,179.11 50.68,179.49 52.01,180.82 53.62,181.70 55.20,182.60 57.14,182.50 58.84,181.70 60.50,180.80 59.91,178.64 59.90,176.40 62.12,176.80 64.10,175.34 66.30,175.60 67.90,175.40 68.52,173.26 70.41,171.75 70.80,169.50 72.64,168.61 74.74,169.02 76.51,167.79 78.49,167.63 80.50,167.60 82.36,167.21 83.23,165.31 85.03,164.84 86.40,163.70 87.32,161.71 88.27,159.74 89.30,157.80 88.99,156.12 88.28,154.52 88.86,152.68 87.53,151.18 87.80,149.40 88.31,147.56 88.89,145.75 90.04,144.24 91.06,142.66 92.52,141.30 92.71,139.30 93.70,137.70 91.90,137.15 90.70,135.70 89.62,134.29 89.76,132.27 87.81,131.29 87.73,129.38 86.80,127.90 87.43,126.26 88.56,124.88 88.94,123.12 90.16,121.78 90.70,120.10 92.46,121.08 94.12,122.24 95.71,123.53 97.68,124.12 99.50,125.00 100.65,123.39 102.06,122.08 104.32,121.81 105.40,120.10 107.11,119.60 108.71,118.71 110.71,119.24 112.28,118.26 114.05,117.97 115.82,117.69 117.31,116.40 119.10,116.20 120.61,115.05 122.61,114.69 123.68,112.81 125.76,112.58 126.89,110.80 128.80,110.30 130.81,110.18 132.77,109.82 134.80,109.78 136.73,109.25 138.60,108.40 140.32,109.38 142.26,109.98 144.02,110.90 145.50,112.30 147.54,112.05 149.60,111.90 151.52,112.15 153.47,112.25 155.13,113.66 157.27,112.91 159.00,114.00 160.55,113.13 162.37,112.74 163.36,110.86 165.24,110.57 166.83,109.77 168.30,108.75 169.98,107.94 171.77,108.23 173.55,108.51 175.26,107.98 177.04,108.19 178.75,107.70 179.80,104.60 180.64,102.89 181.92,101.56 183.40,100.40 182.36,98.90 182.37,97.08 182.41,95.24 181.44,93.72 180.80,92.10 181.69,90.38 181.69,88.40 182.71,86.72 182.90,84.80 181.18,84.21 179.96,82.97 178.75,81.70 178.19,79.78 177.47,77.92 176.29,76.27 175.60,74.40 175.02,72.30 175.27,70.20 175.19,68.10 175.60,66.00 175.37,64.27 176.18,62.59 175.39,60.84 176.43,59.17 176.49,57.45 175.41,55.69 176.10,54.00 176.53,52.29 176.67,50.51 177.10,48.80 178.17,47.39 178.71,45.62 180.39,44.62 181.00,42.90 182.81,42.77 184.41,41.99 185.86,40.78 187.69,40.70 189.28,39.89 190.92,39.23 192.70,39.00 193.58,37.13 193.89,35.19 192.82,33.07 193.70,31.20 195.12,29.49 195.76,27.40 196.60,25.40 198.06,24.41 199.54,23.45 201.35,23.09 202.74,21.98 204.44,21.41 205.97,20.54 207.40,19.50 207.91,17.31 209.67,15.73 210.30,13.60 210.72,11.80 210.45,10.10 209.71,8.48 209.30,6.80 207.61,5.73 206.36,4.29 205.30,2.70 204.50,0.90 204.01,-0.90 202.50,-2.00 203.80,-3.44 205.33,-4.59 207.28,-5.25 208.40,-6.90 209.71,-8.08 211.34,-8.78 212.70,-9.87 213.86,-11.27 215.72,-11.63 217.10,-12.70 218.67,-13.58 219.21,-15.49 220.50,-16.65 222.00,-17.60 223.59,-18.38 225.02,-19.53 226.90,-19.60 226.40,-21.55 225.90,-23.50 226.83,-25.34 226.90,-27.40 228.65,-28.18 230.19,-29.29 231.80,-30.30 233.62,-30.49 234.89,-32.06 236.73,-32.16 238.27,-33.06 240.02,-33.42 241.60,-34.20 244.50,-34.20" fill="#fffe55"/><polygon points="225.50,206.70 223.81,207.57 222.17,208.52 220.83,209.90 219.30,211.00 218.39,212.79 217.50,214.60 216.33,215.99 214.45,216.67 213.87,218.65 212.73,220.07 211.34,221.24 210.06,222.52 208.71,223.73 207.49,225.07 206.37,226.51 204.70,227.40 203.64,228.78 202.42,229.99 201.00,231.00 200.46,232.80 200.51,234.75 200.23,236.62 199.20,238.30 198.35,240.36 196.75,241.93 195.60,243.80 194.50,247.00 195.19,249.26 196.90,250.90 195.98,252.63 195.76,254.48 196.00,256.40 197.42,257.97 197.68,260.11 198.80,261.83 199.60,263.70 199.11,265.51 199.20,267.47 198.67,269.28 197.80,271.00 197.43,272.84 197.28,274.74 196.51,276.49 196.00,278.30 196.17,280.29 195.61,282.10 194.29,283.70 194.10,285.60 194.21,287.42 194.08,289.24 193.77,291.06 194.30,292.88 194.10,294.70 196.07,295.80 196.89,298.05 198.70,299.30 199.55,301.10 200.43,302.89 201.43,304.60 201.96,306.58 203.50,308.00 206.00,306.50 207.52,305.70 209.14,305.06 210.01,303.21 211.96,303.09 213.30,302.00 212.89,299.94 212.35,297.91 212.25,295.78 211.50,293.80 212.57,292.17 214.41,291.16 215.63,289.65 215.99,287.46 217.76,286.39 218.75,284.70 219.82,286.20 221.43,287.05 222.94,288.01 224.15,289.34 225.60,290.38 227.27,291.15 228.67,292.25 229.70,293.80 231.16,292.65 232.40,291.20 234.41,290.83 235.73,289.48 236.99,288.05 238.80,287.40 240.93,286.99 242.88,288.37 245.00,288.00 247.10,287.99 249.21,288.35 251.30,287.84 253.40,287.80 254.54,286.09 255.94,284.60 257.81,283.53 258.70,281.60 259.02,279.73 259.85,278.11 261.10,276.70 262.98,276.38 264.85,276.52 266.73,276.97 268.60,276.70 269.92,277.99 271.89,278.19 273.43,279.11 274.75,280.40 276.18,281.75 277.33,283.27 277.54,285.42 278.45,287.10 279.57,288.65 281.00,290.00 282.09,288.15 282.55,286.05 283.40,284.10 285.42,283.52 286.93,281.92 288.76,280.95 290.80,280.40 293.30,279.81 295.80,280.40 295.94,278.33 296.41,276.27 295.80,274.20 295.40,272.35 294.26,270.87 293.30,269.30 293.58,267.45 293.13,265.71 292.50,264.00 291.69,262.37 292.10,260.60 290.77,259.19 289.24,257.95 288.71,255.88 287.34,254.51 285.90,253.20 285.57,251.35 284.95,249.53 285.90,247.53 284.78,245.77 284.27,243.93 284.65,242.00 283.44,240.41 282.15,238.86 281.56,236.91 280.91,234.99 279.70,233.40 279.06,231.69 280.08,229.99 279.15,228.28 279.92,226.57 279.49,224.87 280.23,223.16 280.14,221.46 279.70,219.75 278.77,217.99 279.88,215.96 279.48,214.14 278.10,212.43 278.50,210.50 276.62,210.79 274.81,211.52 272.89,211.58 270.96,211.60 269.10,212.00 267.20,211.20 265.01,211.40 263.28,210.03 261.25,209.70 259.40,209.43 257.59,209.90 255.82,210.73 253.93,209.98 252.08,209.81 250.30,210.50 248.50,210.97 246.88,209.94 245.21,209.39 243.42,209.73 241.65,209.93 240.00,209.20 238.43,210.15 236.60,210.00 235.31,208.77 234.56,207.08 232.72,206.32 232.00,204.60 230.49,205.48 228.83,205.90 227.30,206.72 225.50,206.70" fill="#81b93a"/><polygon points="278.50,210.50 280.00,208.00 280.93,206.46 282.50,205.60 284.34,204.35 285.96,202.84 287.50,201.25 288.98,200.29 290.29,199.04 292.22,198.78 293.50,197.50 294.32,199.40 294.36,201.47 295.06,203.40 295.20,205.45 295.80,207.40 297.80,208.38 300.16,208.47 302.00,209.85 303.15,211.39 302.55,213.44 303.82,214.95 304.36,216.67 304.50,218.50 305.24,220.23 306.99,220.96 307.85,222.56 309.44,223.45 310.50,224.85 312.22,225.61 313.10,227.20 313.24,229.08 313.24,230.99 314.04,232.76 314.40,234.60 315.93,235.53 317.62,236.06 319.56,235.88 320.87,237.41 322.61,237.80 324.30,238.30 325.54,239.59 326.87,240.82 326.93,242.94 328.40,244.08 329.13,245.73 330.40,247.00 329.87,248.98 330.10,250.96 329.81,252.94 330.55,254.92 330.40,256.90 329.86,258.60 330.24,260.37 329.43,262.05 329.39,263.78 330.36,265.59 330.19,267.32 329.96,269.04 328.79,270.69 329.41,272.48 329.20,274.20 327.29,274.66 325.59,275.71 323.65,276.07 321.80,276.70 320.74,275.23 319.77,273.71 319.13,271.99 318.10,270.50 316.06,269.98 314.07,269.14 311.90,269.30 311.19,267.62 310.57,265.89 309.55,264.39 308.20,263.10 306.71,262.00 304.93,262.00 303.20,261.80 301.20,261.65 299.50,260.60 297.91,261.48 296.57,262.61 295.80,264.30 292.50,264.00 291.69,262.37 292.10,260.60 290.77,259.19 289.24,257.95 288.71,255.88 287.34,254.51 285.90,253.20 285.57,251.35 284.95,249.53 285.90,247.53 284.78,245.77 284.27,243.93 284.65,242.00 283.44,240.41 282.15,238.86 281.56,236.91 280.91,234.99 279.70,233.40 279.06,231.69 280.08,229.99 279.15,228.28 279.92,226.57 279.49,224.87 280.23,223.16 280.14,221.46 279.70,219.75 278.77,217.99 279.88,215.96 279.48,214.14 278.10,212.43 278.50,210.50" fill="#81b93a"/><polyline points="240.4,52 237.2,58 235.6,70.2 238.75,75.6 240.3,79.5" fill="none" stroke="#cde66c" stroke-width="2.6" stroke-linecap="round"/><ellipse cx="252.5" cy="56" rx="4.2" ry="2.6" transform="rotate(40 252.5 56)" fill="#dff064"/><polyline points="258.5,55.5 266,46.5 273,38.5" fill="none" stroke="#e4f25e" stroke-width="2.4"/><g fill="none" stroke="#cfe86c" stroke-width="1.2" stroke-linejoin="round"><polyline points="230.00,41.70 233.15,42.31 236.32,42.83 239.40,43.75 241.19,47.27 242.50,51.00 246.67,51.30 250.80,52.00 253.27,54.29 256.00,56.25"/><polyline points="194.00,73.60 196.38,75.51 198.82,77.35 201.00,79.50 202.52,75.89 204.50,72.50 208.54,71.11 212.70,70.10 216.22,70.90 219.80,71.30 220.55,74.77 220.90,78.30 220.22,81.85 219.22,85.34 218.60,88.90 217.40,91.79 216.25,94.70"/><polyline points="183.40,91.20 185.51,94.11 187.70,96.96 189.76,99.90 191.60,103.00 192.97,106.44 193.75,110.07 195.31,113.44 196.30,117.00"/><polyline points="61.70,205.80 64.14,202.45 66.70,199.20 70.80,198.11 75.00,197.50 78.46,199.21 81.77,201.19 85.00,203.30 87.07,206.23 89.62,208.78 91.70,211.70 95.05,213.67 98.30,215.80 99.01,219.58 100.00,223.30"/><polyline points="45.80,211.70 47.21,208.54 48.53,205.35 49.99,202.22 51.70,199.20 52.50,195.00"/><polyline points="49.20,215.00 55.00,215.00 57.55,217.45 60.00,220.00 63.48,221.90 66.70,224.20 69.36,226.05 71.70,228.30"/><polyline points="73.30,228.30 74.93,224.12 76.70,220.00 79.03,217.33 81.70,215.00 84.97,213.92 88.32,213.14 91.70,212.50"/><polyline points="75.00,238.30 78.33,237.72 81.64,237.06 84.98,236.55 88.33,236.10 91.70,235.80 95.32,235.74 98.89,235.07 102.50,235.00"/><polyline points="80.00,255.00 83.90,254.92 87.80,254.76 91.70,255.00 94.86,255.17 97.98,255.65 101.05,256.48 104.20,256.70"/><polyline points="41.70,195.00 45.02,195.78 48.30,196.70 51.18,195.62 54.20,195.00"/><polyline points="137.10,239.50 137.68,243.39 138.10,247.30 138.79,250.72 139.00,254.20 138.30,257.67 137.10,261.00 135.57,264.03 133.52,266.75 132.17,269.88 130.30,272.70 128.42,275.21 126.28,277.51 124.43,280.03 122.50,282.50"/><polyline points="146.90,234.65 147.45,238.30 148.09,241.94 148.58,245.60 148.80,249.30 148.78,252.49 148.14,255.64 148.32,258.84 147.90,262.00 146.51,265.21 144.82,268.29 143.45,271.51 142.00,274.70 139.52,277.41 137.61,280.56 135.45,283.51 133.20,286.40 131.82,289.23 130.81,292.23 129.30,295.00 128.07,297.86 127.56,300.95 126.63,303.91 125.48,306.80 124.70,309.80"/><polyline points="122.50,248.30 124.87,246.04 127.19,243.72 129.60,241.51 132.20,239.50"/><polyline points="122.50,252.20 122.58,256.60 122.50,261.00 119.50,265.90"/><polyline points="168.40,264.90 166.26,267.40 164.18,269.96 161.99,272.42 159.60,274.70 157.59,277.18 155.13,279.24 153.27,281.86 151.03,284.12 148.80,286.40 146.53,288.99 144.46,291.74 142.05,294.22 140.17,297.13 138.00,299.80 135.38,301.85 132.63,303.73 130.16,305.98 127.17,307.54 124.70,309.80"/><polyline points="92.00,254.00 96.03,255.48 100.00,257.10 103.39,258.86 106.67,260.81 109.80,263.00 111.92,265.79 113.70,268.80"/><polyline points="100.00,275.70 103.29,276.59 106.60,277.40 109.80,278.60 112.94,277.85 116.12,277.40 119.36,277.31 122.50,276.60"/><polyline points="186.00,178.10 189.25,177.86 192.49,177.53 195.74,177.34 198.99,177.23 202.26,177.47 205.50,177.10 208.65,177.30 211.75,177.81 214.84,178.45 217.98,178.73 221.10,179.10 224.30,179.93 227.60,180.06 230.86,180.49 234.09,181.12 237.38,181.29 240.60,182.00 244.98,182.57 249.40,182.50 252.86,183.66 256.25,185.00 258.41,187.86 260.30,190.92 262.50,193.75"/><polyline points="191.80,119.50 194.36,121.40 196.98,123.22 199.50,125.17 201.98,127.17 204.24,129.45 207.01,131.09 209.40,133.20 212.55,134.29 215.59,135.70 218.75,136.77 221.76,138.25 225.00,139.10 227.93,140.54 230.88,141.94 233.73,143.53 236.70,144.90 238.83,147.09 240.37,149.79 242.66,151.86 244.61,154.20 246.50,156.60"/><polyline points="236.70,103.90 236.78,107.15 236.94,110.40 236.96,113.65 236.90,116.90 236.49,120.15 236.70,123.40 236.52,126.94 236.03,130.45 235.41,133.94 235.15,137.48 234.80,141.00 235.43,144.04 236.74,146.86 237.76,149.78 238.58,152.76 239.85,155.60 240.60,158.60 241.61,161.56 243.29,164.20 244.58,167.03 245.67,169.95 247.35,172.59 248.28,175.59 249.45,178.47 251.12,181.12 252.30,184.00"/><polyline points="169.00,135.80 172.51,136.32 176.04,136.76 179.50,137.60 181.30,142.85 184.80,146.40 185.36,149.88 185.60,153.38 185.70,156.90 186.67,160.50 188.22,163.90 189.20,167.50 191.34,170.35 193.21,173.39 195.40,176.20"/><polyline points="215.60,120.00 216.84,122.90 218.16,125.78 219.10,128.80 221.48,130.82 223.64,133.06 225.55,135.55 227.90,137.60"/><polyline points="140.00,172.70 142.39,175.59 144.85,178.42 147.00,181.50 148.80,187.00"/><polyline points="154.00,142.85 156.06,145.87 158.20,148.84 160.22,151.90 162.00,155.10 163.70,157.88 164.87,160.95 166.75,163.63 168.10,166.60 170.53,169.74 172.68,173.09 175.15,176.20 179.57,176.68 184.00,177.10"/><polyline points="120.20,189.90 123.94,189.82 127.68,189.66 131.41,189.64 135.15,189.90 139.54,190.12 143.90,190.75 146.95,191.39 150.08,191.43 153.14,191.97 156.20,192.50 158.96,189.55 161.50,186.40 164.16,184.48 166.99,182.80 169.41,180.57 172.02,178.59 174.70,176.70 179.09,177.24 183.50,177.60"/><polyline points="100.00,185.50 103.52,185.60 107.05,185.62 110.57,185.78 114.09,186.02 117.60,186.40"/><polyline points="133.40,163.50 135.49,165.78 137.65,168.01 139.50,170.50 141.71,173.00 143.66,175.68 145.33,178.58 147.50,181.10 150.53,183.59 153.36,186.30 156.20,189.00"/><polyline points="133.40,171.40 134.64,174.30 135.96,177.18 136.90,180.20 140.08,181.29 143.13,182.67 146.04,184.37 149.20,185.50 152.81,187.53 156.20,189.90"/><polyline points="156.20,192.50 154.53,195.18 152.93,197.90 151.00,200.40 151.68,203.44 152.05,206.52 152.07,209.65 152.70,212.70 152.47,216.30 151.94,219.86 151.28,223.41 151.00,227.00 151.54,230.24 151.79,233.53 152.70,236.70 151.73,240.03 150.81,243.37 149.69,246.65 148.80,250.00"/><polyline points="100.00,129.30 103.24,128.89 106.48,128.39 109.72,128.04 112.98,127.77 116.27,127.84 119.50,127.30 122.01,125.51 124.68,123.99 127.43,122.58 129.98,120.86 132.77,119.52 135.20,117.60 138.43,115.63 141.63,113.61 144.90,111.70"/><polyline points="92.00,167.00 96.01,167.37 100.00,167.90 104.42,168.11 108.80,168.80 111.75,168.18 114.74,167.88 117.76,167.93 120.70,167.16 123.70,167.00 123.61,163.50 123.70,160.00 126.59,158.12 129.30,156.00"/><polyline points="92.00,144.90 95.05,144.61 98.09,144.24 101.15,144.01 104.21,143.85 107.29,144.05 110.32,143.43 113.38,143.33 116.45,143.36 119.50,143.00 122.77,142.38 126.10,142.04 129.30,141.04 132.55,140.34 135.85,139.84 139.10,139.10"/><polyline points="240.30,-30.60 240.38,-27.10 240.54,-23.60 240.56,-20.10 240.30,-16.60 238.72,-13.55 236.62,-10.81 235.22,-7.65 233.30,-4.80 232.21,-1.84 230.81,1.00 229.75,3.96 228.60,6.90 227.85,10.36 227.81,13.90 227.40,17.40 226.28,20.65 224.96,23.82 224.09,27.15 222.70,30.30 222.78,34.23 223.60,38.09 223.90,42.00 226.30,44.61 228.46,47.43 230.90,50.00"/><polyline points="205.20,22.10 209.09,21.26 212.95,20.33 216.90,19.80 220.34,18.75 223.86,18.00 227.40,17.40 230.59,18.20 233.89,18.40 237.09,19.11 240.30,19.80 241.50,23.30"/><polyline points="211.00,8.00 214.53,7.92 218.07,7.76 221.60,8.00 223.75,11.00 225.64,14.16 227.40,17.40"/><polyline points="227.40,17.40 229.18,14.84 230.89,12.23 232.72,9.71 234.61,7.22 236.78,4.95 238.30,2.20 240.30,-0.20"/><polyline points="181.70,46.70 184.61,45.84 187.50,44.90 190.43,44.10 193.38,43.37 196.42,42.98 199.30,42.00 203.16,41.04 207.08,40.37 211.00,39.70 213.98,38.66 216.86,37.38 219.91,36.50 222.70,35.00"/><polyline points="199.30,32.70 203.18,31.82 207.05,30.86 211.00,30.30 214.90,30.04 218.80,30.10 222.70,30.30"/><polyline points="58.30,286.50 61.62,286.71 64.95,286.83 68.27,287.09 71.58,287.43 74.87,288.12 78.20,288.20 81.54,288.32 84.85,288.75 88.15,289.31 91.48,289.51 94.80,289.80 98.08,290.49 101.44,290.47 104.77,290.76 108.07,291.25 111.40,291.50 115.23,290.71 119.18,290.68 123.00,289.80"/><polyline points="61.60,274.90 64.91,274.48 68.22,273.98 71.53,273.62 74.86,273.34 78.20,273.20 81.49,273.91 84.87,274.00 88.17,274.61 91.46,275.35 94.80,275.70 98.12,275.91 101.42,276.41 104.76,276.23 108.08,276.36 111.40,276.60 114.74,276.26 118.02,275.53 121.42,275.64 124.70,274.90"/><polyline points="74.90,314.70 77.71,316.30 80.56,317.83 83.20,319.70 86.91,319.24 90.64,319.10 94.39,319.31 98.10,318.90 101.39,318.20 104.73,317.81 108.08,317.55 111.38,316.93 114.70,316.40 118.09,316.18 121.37,315.26 124.70,314.70"/><polyline points="83.20,303.10 87.08,303.59 90.97,304.00 94.80,304.80 98.09,304.26 101.42,304.03 104.77,304.16 108.05,303.47 111.38,303.29 114.70,303.10"/><polyline points="111.40,329.70 114.12,327.41 116.78,325.05 119.70,323.00 122.89,321.12 126.30,319.70 128.14,322.36 129.46,325.34 131.30,328.00 133.00,333.00"/><polyline points="149.60,319.70 149.92,315.97 150.16,312.22 150.54,308.50 151.20,304.80 153.57,302.57 156.33,300.81 158.57,298.42 161.20,296.50 164.51,295.98 167.87,295.80 171.18,295.26 174.50,294.80 175.66,292.00 176.14,289.00 176.91,286.08 177.80,283.20 177.32,279.32 176.44,275.50 176.10,271.60 176.84,268.32 176.85,264.94 177.29,261.61 177.80,258.30"/><polyline points="154.60,333.00 156.18,329.64 157.69,326.24 159.32,322.91 161.20,319.70 163.56,317.08 166.35,314.90 168.56,312.13 171.20,309.80 174.45,307.49 177.88,305.46 181.10,303.10 184.42,304.79 187.61,306.75 191.10,308.10 191.93,311.00 192.81,313.88 193.49,316.82 194.40,319.70 193.52,323.10 191.89,326.27 191.10,329.70 191.20,333.02 191.19,336.35 190.95,339.68 191.10,343.00"/><polyline points="171.20,318.10 173.34,315.29 175.41,312.42 177.80,309.80 180.94,307.10 184.40,304.80"/></g><g fill="none" stroke="#70ab45" stroke-width="1" stroke-linejoin="round"><polyline points="205.10,271.00 206.60,268.19 208.53,265.63 209.80,262.69 211.50,260.00 213.71,257.92 216.32,256.38 218.75,254.60 221.59,252.93 224.30,251.07 226.77,248.84 229.70,247.30 231.97,243.65 234.25,240.00 236.48,237.59 238.78,235.26 241.69,233.58 243.93,231.19 246.13,228.75 248.60,226.60"/><polyline points="200.50,294.70 201.68,291.91 203.30,289.33 204.23,286.43 205.30,283.59 206.90,281.00 208.48,278.26 210.26,275.64 211.82,272.90 213.30,270.10 215.50,267.70 218.17,265.83 220.60,263.70 223.66,263.76 226.70,263.93 229.70,264.60 232.87,263.76 235.83,262.35 238.80,261.00 242.76,260.56 246.75,260.55 250.70,260.00 252.27,256.00 253.40,251.85 253.31,247.87 253.91,243.94 254.30,240.00 255.66,236.93 256.98,233.84 258.80,231.00 260.08,228.14 261.28,225.25 262.09,222.22 263.20,219.30"/><polyline points="229.70,264.60 229.45,267.89 228.72,271.13 228.74,274.45 228.61,277.76 227.90,281.00 226.07,284.66 224.20,288.30"/><polyline points="238.80,261.00 238.31,264.65 237.34,268.22 237.00,271.90 238.48,275.28 240.08,278.62 241.14,282.17 242.50,285.60"/><polyline points="201.70,244.20 203.67,241.78 206.02,239.70 207.79,237.10 209.68,234.61 212.00,232.50 214.91,231.60 217.89,230.91 220.80,230.00 223.58,228.65 226.60,228.10 230.50,227.60 234.37,226.86 238.30,226.60 241.63,225.27 245.27,225.04 248.60,223.70 251.58,222.67 254.40,221.24 257.44,220.36 260.37,219.20 263.20,217.80 266.44,215.52 270.02,213.85 273.50,212.00"/><polyline points="260.30,272.00 262.17,269.00 264.45,266.28 266.20,263.20 266.81,259.53 267.30,255.83 268.35,252.25 269.10,248.60 268.55,244.89 267.79,241.22 266.58,237.64 266.20,233.90 264.00,231.70 261.80,229.50"/><polyline points="272.00,248.60 274.28,250.72 276.21,253.19 278.68,255.12 280.80,257.40"/><polyline points="289.60,209.00 289.53,212.12 288.96,215.21 289.16,218.34 289.20,221.47 288.68,224.56 288.29,227.66 288.14,230.78 288.10,233.90 289.07,236.77 289.36,239.79 290.22,242.68 290.98,245.59 290.87,248.69 291.71,251.59 292.50,254.50 296.16,254.01 299.87,253.97 303.55,253.61 307.20,253.00 310.30,254.11 313.08,255.84 316.03,257.24 319.04,258.52 321.80,260.30 322.61,263.30 323.52,266.26 324.80,269.10"/></g><g fill="none" stroke="#0c0c0c" stroke-width="1.75" stroke-linejoin="round"><polygon points="244.50,-34.20 245.47,-32.64 244.98,-30.67 245.57,-29.00 246.40,-27.40 246.56,-25.41 246.05,-23.48 245.93,-21.51 245.47,-19.58 245.50,-17.60 244.90,-15.89 245.66,-14.02 245.56,-12.25 244.23,-10.61 244.50,-8.80 243.92,-6.84 242.82,-5.05 242.50,-3.00 242.50,-0.50 244.58,0.85 245.60,3.10 247.40,3.73 249.04,4.79 251.06,4.85 252.70,5.90 253.30,8.34 255.00,10.20 255.95,12.12 258.24,12.86 259.62,14.41 260.50,16.40 261.38,18.26 261.82,20.35 263.30,21.90 265.43,22.07 267.56,22.17 269.60,22.90 271.05,23.85 272.76,24.44 273.75,26.00 274.31,27.71 274.19,29.49 274.28,31.25 274.82,32.96 275.00,34.71 274.80,36.50 273.75,39.60 272.84,41.24 271.38,42.39 270.36,43.92 269.44,45.55 267.37,46.17 266.47,47.81 265.17,49.11 264.45,50.90 262.40,51.54 261.33,53.04 260.91,55.10 259.48,56.28 258.10,57.50 258.60,60.00 258.80,62.03 259.31,63.97 259.51,66.00 260.60,67.80 259.95,69.79 259.10,71.70 257.30,72.24 255.84,73.36 254.40,74.50 254.29,76.35 254.80,78.01 255.90,79.50 257.40,80.75 258.34,82.34 258.43,84.47 259.80,85.80 261.79,86.88 263.92,87.56 266.10,88.10 266.17,89.91 265.55,91.63 265.35,93.41 265.30,95.20 267.23,95.66 269.20,95.90 269.68,97.73 269.30,99.57 269.20,101.40 267.70,103.75 269.74,105.21 271.60,106.90 271.74,108.84 271.81,110.80 272.32,112.66 273.31,114.40 273.89,116.24 274.57,118.05 274.70,120.00 273.50,121.75 275.46,122.49 276.60,124.25 278.75,124.48 280.39,125.87 282.25,126.75 282.83,128.89 282.90,131.10 284.07,132.47 284.52,134.35 286.00,135.50 286.80,137.60 287.59,139.70 288.50,141.75 286.96,142.71 285.40,143.61 283.50,143.60 281.59,143.54 279.75,143.00 278.03,144.12 275.98,144.25 274.10,144.90 275.08,146.85 276.86,147.97 278.50,149.25 276.91,151.17 274.75,152.40 273.80,153.93 273.51,155.63 273.50,157.40 271.56,157.48 269.65,157.64 267.90,158.60 267.62,156.62 267.02,154.74 266.00,153.00 264.80,151.65 264.48,149.68 262.90,148.60 260.96,147.66 258.76,148.47 256.84,147.35 254.75,147.40 252.96,148.74 251.60,150.50 251.65,152.38 251.60,154.25 250.02,156.10 248.50,158.00 250.06,159.87 251.60,161.75 251.68,164.05 252.90,166.00 252.35,167.75 251.36,169.36 251.25,171.25 252.97,172.68 254.40,174.40 253.54,176.50 253.75,178.75 254.60,180.40 256.29,181.21 257.43,182.57 258.75,183.75 259.51,185.95 261.25,187.50 261.91,189.52 263.14,191.24 264.41,192.95 265.00,195.00 265.25,197.50 265.00,200.00 266.05,201.45 267.50,202.50 269.32,201.84 271.29,202.67 273.10,201.90 275.14,202.65 276.59,204.47 278.75,205.00 280.26,203.54 282.47,203.01 283.75,201.25 285.48,200.89 287.00,200.01 288.63,199.40 290.33,198.95 291.92,198.24 293.50,197.50 294.32,199.40 294.36,201.47 295.06,203.40 295.20,205.45 295.80,207.40 297.80,208.38 300.16,208.47 302.00,209.85 303.15,211.39 302.55,213.44 303.82,214.95 304.36,216.67 304.50,218.50 305.24,220.23 306.99,220.96 307.85,222.56 309.44,223.45 310.50,224.85 312.22,225.61 313.10,227.20 313.24,229.08 313.24,230.99 314.04,232.76 314.40,234.60 315.93,235.53 317.62,236.06 319.56,235.88 320.87,237.41 322.61,237.80 324.30,238.30 325.54,239.59 326.87,240.82 326.93,242.94 328.40,244.08 329.13,245.73 330.40,247.00 329.87,248.98 330.10,250.96 329.81,252.94 330.55,254.92 330.40,256.90 329.86,258.60 330.24,260.37 329.43,262.05 329.39,263.78 330.36,265.59 330.19,267.32 329.96,269.04 328.79,270.69 329.41,272.48 329.20,274.20 327.29,274.66 325.59,275.71 323.65,276.07 321.80,276.70 320.74,275.23 319.77,273.71 319.13,271.99 318.10,270.50 316.06,269.98 314.07,269.14 311.90,269.30 311.19,267.62 310.57,265.89 309.55,264.39 308.20,263.10 306.71,262.00 304.93,262.00 303.20,261.80 301.20,261.65 299.50,260.60 297.91,261.48 296.57,262.61 295.80,264.30 292.50,264.00 293.13,265.71 293.58,267.45 293.30,269.30 294.26,270.87 295.40,272.35 295.80,274.20 296.41,276.27 295.94,278.33 295.80,280.40 293.30,279.81 290.80,280.40 288.76,280.95 286.93,281.92 285.42,283.52 283.40,284.10 282.55,286.05 282.09,288.15 281.00,290.00 279.57,288.65 278.45,287.10 277.54,285.42 277.33,283.27 276.18,281.75 274.75,280.40 273.43,279.11 271.89,278.19 269.92,277.99 268.60,276.70 266.73,276.97 264.85,276.52 262.98,276.38 261.10,276.70 259.85,278.11 259.02,279.73 258.70,281.60 257.81,283.53 255.94,284.60 254.54,286.09 253.40,287.80 251.30,287.84 249.21,288.35 247.10,287.99 245.00,288.00 242.88,288.37 240.93,286.99 238.80,287.40 236.99,288.05 235.73,289.48 234.41,290.83 232.40,291.20 231.16,292.65 229.70,293.80 228.67,292.25 227.27,291.15 225.60,290.38 224.15,289.34 222.94,288.01 221.43,287.05 219.82,286.20 218.75,284.70 217.76,286.39 215.99,287.46 215.63,289.65 214.41,291.16 212.57,292.17 211.50,293.80 212.25,295.78 212.35,297.91 212.89,299.94 213.30,302.00 211.96,303.09 210.01,303.21 209.14,305.06 207.52,305.70 206.00,306.50 203.50,308.00 203.33,309.85 203.50,311.70 202.23,313.52 201.20,315.45 200.60,317.60 199.12,318.73 198.39,320.35 197.70,322.00 196.75,323.71 197.60,325.78 196.62,327.48 196.20,329.30 196.10,331.18 197.00,332.76 197.16,334.56 198.72,335.95 198.74,337.79 199.20,339.50 198.49,341.17 197.15,342.40 196.20,343.90 194.39,344.69 192.98,346.27 191.10,346.89 189.30,347.70 187.40,348.30 187.34,350.41 188.04,352.32 188.90,354.20 187.40,351.30 185.66,352.12 183.67,351.59 182.02,352.85 180.10,352.70 178.39,351.96 176.42,352.04 174.60,351.62 173.22,349.89 171.30,349.80 169.54,349.95 167.84,349.69 166.30,348.38 164.58,348.28 162.76,348.84 161.10,348.30 159.17,349.32 158.11,351.21 156.50,352.55 155.20,354.20 156.98,355.80 158.10,357.90 156.29,358.45 155.20,360.00 154.73,357.76 153.75,355.70 153.19,353.84 152.02,352.42 150.26,351.44 149.40,349.80 148.83,348.01 148.19,346.24 147.79,344.42 147.90,342.50 145.77,343.35 143.50,343.00 143.50,345.40 141.72,345.24 140.00,345.45 138.35,346.17 136.68,346.73 135.02,347.34 133.20,346.90 131.47,347.09 129.87,347.77 128.10,347.79 126.56,348.73 124.75,348.60 123.25,349.69 121.50,349.80 119.77,349.49 118.08,349.71 116.41,350.27 114.70,350.21 112.98,350.13 111.30,350.50 109.26,349.99 107.63,348.63 105.94,347.42 103.90,346.90 102.27,346.19 101.24,344.58 99.70,343.73 98.37,342.57 96.52,342.17 95.20,341.00 93.42,340.51 92.50,338.72 91.03,337.74 89.29,337.20 87.55,336.64 86.40,335.20 84.62,335.05 83.16,333.92 81.36,333.83 80.00,332.40 78.19,332.33 76.37,332.30 74.92,331.14 73.20,330.80 72.11,329.42 71.87,327.52 70.93,326.06 69.54,324.87 68.60,323.40 67.41,321.96 66.13,320.60 64.60,319.50 64.02,317.34 63.27,315.27 61.70,313.60 60.01,312.84 59.11,311.29 58.13,309.82 56.80,308.70 56.73,306.91 57.32,305.19 56.83,303.36 58.13,301.72 57.80,299.90 59.78,299.30 61.57,298.12 63.70,298.00 62.38,295.91 60.70,294.10 59.30,292.79 57.97,291.42 57.08,289.69 55.90,288.20 54.91,286.64 54.51,284.91 54.89,282.96 53.90,281.40 55.13,280.05 55.90,278.40 57.53,276.82 59.94,276.81 61.70,275.50 61.55,273.38 62.70,271.60 63.82,269.82 65.74,268.69 66.60,266.70 66.09,265.00 65.02,263.54 64.60,261.80 64.93,259.36 65.60,257.00 67.43,256.55 69.30,256.40 71.23,255.76 73.26,256.86 75.14,255.42 77.13,255.81 79.10,255.80 78.46,253.80 78.30,251.70 76.86,250.28 76.43,248.24 74.71,246.99 74.20,245.00 73.62,243.31 72.77,241.72 71.75,240.19 71.70,238.30 72.54,236.64 72.79,234.68 74.20,233.30 72.50,230.80 70.62,230.06 68.57,229.71 66.75,228.86 65.10,227.62 63.30,226.70 61.73,227.63 60.80,229.20 58.81,229.29 56.96,228.73 55.21,227.75 53.30,227.50 52.29,225.61 50.48,224.52 48.85,223.25 47.50,221.70 46.13,220.27 43.88,220.60 42.50,219.20 43.00,216.70 42.50,214.20 42.79,212.44 43.16,210.71 44.20,209.20 42.89,207.77 42.29,205.99 41.70,204.20 42.53,202.18 42.50,200.00 40.38,200.24 38.36,199.49 36.29,199.21 34.20,199.20 33.40,197.32 33.00,195.31 32.30,193.40 31.15,191.64 30.57,189.71 30.60,187.60 29.89,185.92 30.00,184.10 31.92,183.02 33.47,181.45 35.30,180.25 36.99,179.57 38.80,179.40 40.51,180.21 42.30,180.80 43.42,179.49 44.43,178.08 45.80,177.00 47.16,178.29 48.79,179.11 50.68,179.49 52.01,180.82 53.62,181.70 55.20,182.60 57.14,182.50 58.84,181.70 60.50,180.80 59.91,178.64 59.90,176.40 62.12,176.80 64.10,175.34 66.30,175.60 67.90,175.40 68.52,173.26 70.41,171.75 70.80,169.50 72.64,168.61 74.74,169.02 76.51,167.79 78.49,167.63 80.50,167.60 82.36,167.21 83.23,165.31 85.03,164.84 86.40,163.70 87.32,161.71 88.27,159.74 89.30,157.80 88.99,156.12 88.28,154.52 88.86,152.68 87.53,151.18 87.80,149.40 88.31,147.56 88.89,145.75 90.04,144.24 91.06,142.66 92.52,141.30 92.71,139.30 93.70,137.70 91.90,137.15 90.70,135.70 89.62,134.29 89.76,132.27 87.81,131.29 87.73,129.38 86.80,127.90 87.43,126.26 88.56,124.88 88.94,123.12 90.16,121.78 90.70,120.10 92.46,121.08 94.12,122.24 95.71,123.53 97.68,124.12 99.50,125.00 100.65,123.39 102.06,122.08 104.32,121.81 105.40,120.10 107.11,119.60 108.71,118.71 110.71,119.24 112.28,118.26 114.05,117.97 115.82,117.69 117.31,116.40 119.10,116.20 120.61,115.05 122.61,114.69 123.68,112.81 125.76,112.58 126.89,110.80 128.80,110.30 130.81,110.18 132.77,109.82 134.80,109.78 136.73,109.25 138.60,108.40 140.32,109.38 142.26,109.98 144.02,110.90 145.50,112.30 147.54,112.05 149.60,111.90 151.52,112.15 153.47,112.25 155.13,113.66 157.27,112.91 159.00,114.00 160.55,113.13 162.37,112.74 163.36,110.86 165.24,110.57 166.83,109.77 168.30,108.75 169.98,107.94 171.77,108.23 173.55,108.51 175.26,107.98 177.04,108.19 178.75,107.70 179.80,104.60 180.64,102.89 181.92,101.56 183.40,100.40 182.36,98.90 182.37,97.08 182.41,95.24 181.44,93.72 180.80,92.10 181.69,90.38 181.69,88.40 182.71,86.72 182.90,84.80 181.18,84.21 179.96,82.97 178.75,81.70 178.19,79.78 177.47,77.92 176.29,76.27 175.60,74.40 175.02,72.30 175.27,70.20 175.19,68.10 175.60,66.00 175.37,64.27 176.18,62.59 175.39,60.84 176.43,59.17 176.49,57.45 175.41,55.69 176.10,54.00 176.53,52.29 176.67,50.51 177.10,48.80 178.17,47.39 178.71,45.62 180.39,44.62 181.00,42.90 182.81,42.77 184.41,41.99 185.86,40.78 187.69,40.70 189.28,39.89 190.92,39.23 192.70,39.00 193.58,37.13 193.89,35.19 192.82,33.07 193.70,31.20 195.12,29.49 195.76,27.40 196.60,25.40 198.06,24.41 199.54,23.45 201.35,23.09 202.74,21.98 204.44,21.41 205.97,20.54 207.40,19.50 207.91,17.31 209.67,15.73 210.30,13.60 210.72,11.80 210.45,10.10 209.71,8.48 209.30,6.80 207.61,5.73 206.36,4.29 205.30,2.70 204.50,0.90 204.01,-0.90 202.50,-2.00 203.80,-3.44 205.33,-4.59 207.28,-5.25 208.40,-6.90 209.71,-8.08 211.34,-8.78 212.70,-9.87 213.86,-11.27 215.72,-11.63 217.10,-12.70 218.67,-13.58 219.21,-15.49 220.50,-16.65 222.00,-17.60 223.59,-18.38 225.02,-19.53 226.90,-19.60 226.40,-21.55 225.90,-23.50 226.83,-25.34 226.90,-27.40 228.65,-28.18 230.19,-29.29 231.80,-30.30 233.62,-30.49 234.89,-32.06 236.73,-32.16 238.27,-33.06 240.02,-33.42 241.60,-34.20 244.50,-34.20"/><polyline points="176.10,54.00 177.92,54.54 179.67,55.28 181.31,56.36 183.32,56.35 185.10,57.01 186.90,57.60 188.61,57.16 190.10,56.07 191.92,55.94 193.64,55.54 195.39,55.20 196.75,53.72 198.60,53.70 200.37,53.06 202.14,52.40 204.16,53.02 205.95,52.49 207.60,51.23 209.68,52.15 211.50,51.76 213.20,50.75 214.44,52.08 215.86,53.21 217.65,53.89 219.16,54.91 220.10,56.60 221.61,57.77 223.53,58.37 224.70,60.00 226.24,61.51 227.35,63.30 228.77,64.88 229.40,67.00 229.18,68.97 228.95,70.93 228.12,72.81 228.31,74.83 227.87,76.77 227.80,78.75 229.75,79.12 231.70,79.50 232.19,81.17 233.15,82.63 234.08,84.10 234.50,85.80"/><polyline points="234.50,85.80 235.60,83.40 237.14,82.07 238.87,80.97 240.30,79.50 241.97,78.94 243.21,77.52 245.00,77.20 247.00,76.25 249.14,76.49 251.25,76.40 252.66,75.18 254.40,74.50"/><polyline points="234.50,85.80 235.20,87.55 234.98,89.48 235.60,91.25 233.88,90.99 232.16,90.76 230.44,91.69 228.72,91.63 227.00,91.25 228.23,92.75 228.91,94.51 229.04,96.52 230.59,97.88 230.90,99.80 229.09,99.51 227.21,99.70 225.41,99.33 223.62,98.89 221.88,98.08 220.00,98.30 216.70,98.60 215.71,100.49 215.00,102.50 213.42,103.68 211.54,103.85 209.82,104.55 207.90,104.60 206.43,105.86 205.46,107.46 204.43,109.01 203.75,110.80 202.33,111.93 201.38,113.39 200.60,115.00 198.53,115.02 196.73,115.85 195.10,117.18 192.97,117.01 191.25,118.10 189.19,118.59 187.04,118.70 185.04,119.44 183.00,120.00 181.28,120.64 179.56,121.28 177.78,121.74 176.08,122.45 174.41,123.26 172.37,122.87 170.62,123.45 169.00,124.40 167.89,125.98 167.84,127.83 167.58,129.63 167.20,131.40 165.58,132.14 164.66,133.86 162.80,134.26 161.57,135.54 160.10,136.50"/><polyline points="145.50,112.30 146.22,114.18 145.57,116.18 145.81,118.09 146.20,120.00 147.71,121.27 149.80,121.10 151.55,121.78 153.04,123.10 154.90,123.50 155.34,125.21 156.46,126.65 156.61,128.47 157.63,129.95 157.79,131.77 159.30,133.05 159.81,134.73 160.10,136.50"/><polyline points="160.10,136.50 158.50,138.50 156.44,138.79 155.25,140.86 153.03,140.83 151.40,142.00 150.67,143.61 148.68,144.16 148.62,146.34 147.00,147.20 145.22,148.25 144.02,149.86 142.44,151.11 140.90,152.39 140.00,154.30 138.72,155.73 137.14,156.76 135.32,157.49 134.19,159.10 132.50,160.00 132.60,161.79 132.43,163.55 131.33,165.19 131.60,167.00 130.26,169.01 129.90,171.40 130.87,173.40 132.50,174.90 131.64,176.61 129.70,177.46 129.00,179.30 127.24,179.00 125.41,179.10 123.70,178.45 122.80,180.20 124.31,181.62 125.81,183.05 127.20,184.60 127.37,186.48 126.40,188.10 124.64,187.17 122.80,186.40 121.25,185.67 119.95,184.52 118.45,183.70 116.85,185.15 116.10,187.12 115.30,189.06 114.10,190.75 114.00,192.64 114.90,194.30 113.00,194.92 111.98,196.64 110.50,197.80 111.18,199.92 113.46,200.95 114.10,203.10 116.07,203.50 117.60,204.80 117.60,206.88 116.10,208.61 115.99,210.67 115.80,212.70 113.64,213.32 111.85,214.77 109.70,215.40 110.57,217.13 110.95,219.11 112.30,220.60 110.86,222.00 109.15,222.87 107.50,223.86 105.50,224.20"/><polyline points="67.90,175.40 69.45,176.38 70.78,177.65 72.20,178.80 73.82,179.46 75.37,180.27 76.90,181.10 77.86,182.54 78.60,184.10 78.23,185.98 78.64,187.93 77.96,189.79 78.00,191.70 79.87,191.85 81.26,192.98 82.70,194.00 84.54,193.92 86.39,193.80 88.15,194.79 90.00,194.60 91.08,196.10 91.32,198.03 91.95,199.75 93.67,200.92 94.20,202.70 95.63,203.86 97.31,204.40 99.01,204.87 100.98,204.69 102.39,205.89 104.00,206.60 104.46,208.62 105.54,210.45 105.90,212.50 106.22,214.46 106.03,216.41 106.04,218.36 105.23,220.29 105.78,222.26 105.50,224.20"/><polyline points="160.10,136.50 159.67,138.79 159.30,141.10 161.30,141.82 163.34,142.34 165.50,142.00 167.00,142.87 167.89,144.49 169.25,145.52 170.75,146.40 171.62,147.94 173.29,148.87 174.43,150.20 175.08,151.90 176.00,153.40 178.08,154.57 180.40,155.10 180.92,156.82 180.76,158.62 181.19,160.35 180.64,162.19 181.30,163.90 181.13,165.82 182.30,167.40 181.92,169.37 183.63,170.82 183.04,172.84 183.90,174.50 184.29,176.56 186.08,177.96 186.50,180.00 186.21,181.80 186.50,183.60 187.63,185.48 188.37,187.62 190.10,189.10 192.00,189.00 193.76,189.76 195.60,190.00 197.58,191.13 199.81,191.42 202.00,191.85 202.90,189.10 204.99,189.31 207.10,189.46 209.00,190.50 211.23,191.77 213.80,191.85 214.43,193.96 214.33,196.27 215.60,198.20 217.71,199.02 219.02,201.03 221.10,201.90 222.24,203.80 223.60,205.50 225.50,206.70"/><polyline points="105.50,224.20 107.21,224.97 108.24,226.62 109.96,227.38 111.52,228.35 112.70,229.80 114.46,230.37 116.22,230.95 117.99,231.51 119.76,232.06 121.50,232.70 122.50,235.60 124.41,235.08 126.35,234.88 128.35,235.30 130.24,234.60 132.20,234.65 134.09,235.37 136.00,236.02 137.93,236.61 140.00,236.60 141.24,235.20 140.99,233.19 142.00,231.70 143.73,229.95 145.90,228.80 147.09,230.95 148.80,232.70 149.71,234.70 150.80,236.60 152.74,236.18 154.68,236.85 156.62,237.12 158.56,237.07 160.50,236.60 162.28,236.88 163.87,237.64 165.66,237.91 166.79,239.82 168.81,239.49 170.30,240.50 172.27,240.82 174.23,240.55 176.20,240.50 177.68,241.78 179.30,242.89 180.61,244.40 182.36,245.33 184.00,246.40 186.07,247.10 187.90,248.30 190.00,247.34 192.29,247.40 194.50,247.00"/><polyline points="225.50,206.70 223.81,207.57 222.17,208.52 220.83,209.90 219.30,211.00 218.39,212.79 217.50,214.60 216.33,215.99 214.45,216.67 213.87,218.65 212.73,220.07 211.34,221.24 210.06,222.52 208.71,223.73 207.49,225.07 206.37,226.51 204.70,227.40 203.64,228.78 202.42,229.99 201.00,231.00 200.46,232.80 200.51,234.75 200.23,236.62 199.20,238.30 198.35,240.36 196.75,241.93 195.60,243.80 194.50,247.00"/><polyline points="225.50,206.70 227.30,206.72 228.83,205.90 230.49,205.48 232.00,204.60 232.72,206.32 234.56,207.08 235.31,208.77 236.60,210.00 238.43,210.15 240.00,209.20 241.65,209.93 243.42,209.73 245.21,209.39 246.88,209.94 248.50,210.97 250.30,210.50 252.08,209.81 253.93,209.98 255.82,210.73 257.59,209.90 259.40,209.43 261.25,209.70 263.28,210.03 265.01,211.40 267.20,211.20 269.10,212.00 270.96,211.60 272.89,211.58 274.81,211.52 276.62,210.79 278.50,210.50"/><polyline points="278.50,210.50 280.00,208.00 280.93,206.46 282.50,205.60 284.34,204.35 285.96,202.84 287.50,201.25 288.98,200.29 290.29,199.04 292.22,198.78 293.50,197.50"/><polyline points="278.50,210.50 278.10,212.43 279.48,214.14 279.88,215.96 278.77,217.99 279.70,219.75 280.14,221.46 280.23,223.16 279.49,224.87 279.92,226.57 279.15,228.28 280.08,229.99 279.06,231.69 279.70,233.40 280.91,234.99 281.56,236.91 282.15,238.86 283.44,240.41 284.65,242.00 284.27,243.93 284.78,245.77 285.90,247.53 284.95,249.53 285.57,251.35 285.90,253.20 287.34,254.51 288.71,255.88 289.24,257.95 290.77,259.19 292.10,260.60 291.69,262.37 292.50,264.00"/><polyline points="194.50,247.00 195.19,249.26 196.90,250.90 195.98,252.63 195.76,254.48 196.00,256.40 197.42,257.97 197.68,260.11 198.80,261.83 199.60,263.70 199.11,265.51 199.20,267.47 198.67,269.28 197.80,271.00 197.43,272.84 197.28,274.74 196.51,276.49 196.00,278.30 196.17,280.29 195.61,282.10 194.29,283.70 194.10,285.60 194.21,287.42 194.08,289.24 193.77,291.06 194.30,292.88 194.10,294.70 196.07,295.80 196.89,298.05 198.70,299.30 199.55,301.10 200.43,302.89 201.43,304.60 201.96,306.58 203.50,308.00"/><polyline points="187.90,248.30 185.84,248.76 183.83,249.33 182.21,250.93 180.10,251.25 178.77,252.97 179.17,255.29 178.10,257.10 176.63,258.23 175.90,260.10 174.20,261.00 173.38,262.62 173.72,264.56 172.50,266.06 172.30,267.85 171.05,269.41 170.03,271.09 169.45,273.03 168.40,274.70 167.40,277.60 165.66,278.61 164.16,279.86 163.64,282.09 161.86,283.06 160.50,284.45 159.86,286.16 160.17,287.87 160.58,289.58 160.77,291.29 160.50,293.00 158.42,294.03 157.20,296.00 155.57,297.33 153.34,297.26 151.43,297.96 149.95,299.64 147.90,300.00 147.23,301.59 146.37,303.06 145.21,304.35 144.54,305.94 143.50,307.30 141.63,307.41 139.95,308.00 138.58,309.43 136.62,309.30 135.35,311.01 133.67,311.60 131.80,311.70 130.59,313.70 129.80,315.90"/><polyline points="105.50,224.20 105.23,225.98 104.05,227.54 103.73,229.31 104.16,231.26 102.83,232.78 102.90,234.65 103.21,237.11 103.90,239.50 104.94,241.03 104.11,243.01 105.47,244.45 105.82,246.15 106.07,247.87 106.27,249.60 106.80,251.25 109.35,251.21 111.70,252.20 111.85,254.02 112.05,255.82 112.88,257.48 112.90,259.33 113.70,261.00 114.52,262.80 115.25,264.65 117.01,265.92 117.60,267.85 119.50,267.18 121.50,266.90 122.83,268.17 124.49,269.11 125.40,270.80 126.40,273.70"/><polyline points="79.10,255.80 79.77,257.55 81.39,258.71 82.35,260.28 82.85,262.14 84.46,263.31 84.90,265.20 86.61,265.91 88.38,266.21 90.34,265.54 92.00,266.50 94.00,266.76 96.00,266.50 98.00,266.69 100.00,266.50 101.66,268.15 103.60,269.29 105.90,269.80 107.88,270.16 109.68,271.24 111.65,271.65 113.70,271.75 115.41,272.68 117.43,271.66 119.05,273.19 121.02,272.48 122.85,272.63 124.57,273.56 126.40,273.70"/><polyline points="126.40,273.70 126.84,275.73 127.40,277.72 128.30,279.60 126.65,280.54 126.30,282.60 125.28,284.07 123.31,284.75 122.50,286.40 122.53,288.15 122.28,289.86 121.46,291.51 122.14,293.33 121.50,295.00 120.10,296.59 119.75,298.69 119.40,300.78 117.45,302.11 117.10,304.20 118.41,305.46 120.24,306.11 120.93,308.10 122.37,309.21 124.00,310.10 125.21,311.79 126.74,313.16 127.86,314.94 129.80,315.90"/><polyline points="129.80,315.90 131.23,317.10 132.19,318.62 132.63,320.47 134.10,321.65 134.70,323.40 136.02,324.62 136.50,326.33 137.44,327.78 138.56,329.11 139.10,330.80 140.67,332.16 141.69,334.07 143.50,335.20 144.02,337.15 143.94,339.10 144.16,341.05 143.50,343.00"/></g><circle cx="165.5" cy="138.9" r="1.5" fill="none" stroke="#111" stroke-width="1"/><ellipse cx="194" cy="138" rx="1.4" ry="2" transform="rotate(-35 194 138)" fill="#a9d6a0" stroke="#8cc39a" stroke-width="0.6"/><g font-family="Liberation Sans" font-weight="bold" font-size="10" fill="#111" text-anchor="middle"><text x="232.5" y="28.5">A</text><text x="204" y="86">B</text><text x="110" y="159">C</text><text x="68" y="216">D</text><text x="86" y="309">E</text><text x="175" y="309">F</text><text x="247" y="251">G</text><text x="304" y="251">H</text><text x="216" y="158">I</text><text x="160" y="201">L</text><text x="146" y="272">M</text></g></g></svg><div class="vl" style="left:0px;background:rgb(249,249,249)"></div><div class="vl" style="left:1px;background:rgb(240,240,240)"></div><div class="vl" style="left:2px;background:rgb(228,228,228)"></div><div class="vl" style="left:3px;background:rgb(214,214,214)"></div><div class="vl" style="left:4px;background:rgb(235,235,235)"></div><div class="vl" style="left:1016px;background:rgb(244,244,244)"></div><div class="vl" style="left:1017px;background:rgb(222,222,222)"></div><div class="vl" style="left:1018px;background:rgb(214,214,214)"></div><div class="vl" style="left:1019px;background:rgb(232,232,232)"></div><div class="vl" style="left:1020px;background:rgb(238,238,238)"></div><div class="vl" style="left:1021px;background:rgb(246,246,246)"></div><div class="vl" style="left:1022px;background:rgb(251,251,251)"></div><div class="vl" style="left:1023px;background:rgb(253,253,253)"></div></div></body></html>
